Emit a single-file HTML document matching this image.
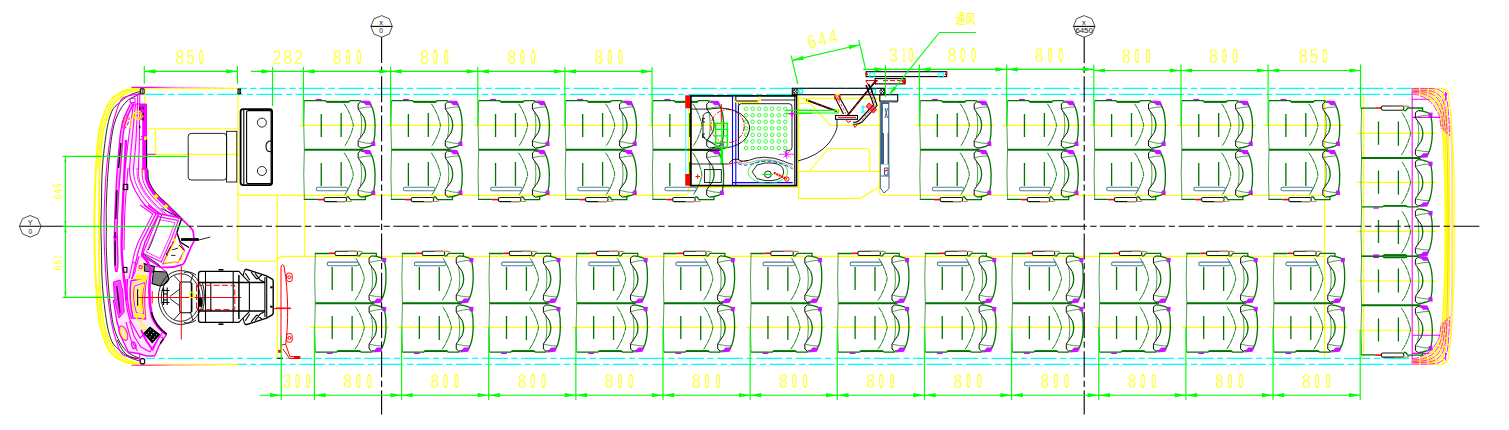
<!DOCTYPE html>
<html lang="zh"><head><meta charset="utf-8"><title>bus seat layout</title>
<style>
html,body{margin:0;padding:0;background:#fff;}
svg{display:block}
.y{stroke:#ff0;stroke-width:1.15}
.c{stroke:#0ff;stroke-width:1.25}
.g{stroke:#0f0;stroke-width:1.15}
.gf{fill:#0f0;stroke:none}
.m{stroke:#f0f;stroke-width:1.1}
.k{stroke:#000;stroke-width:1.1}
.kt{stroke:#333;stroke-width:0.7}
.kt2{stroke:#222;stroke-width:0.8}
.kt3{stroke:#000;stroke-width:0.85}
.gy{stroke:#999;stroke-width:0.8}
.r{stroke:#f00;stroke-width:1}
.b{stroke:#00f;stroke-width:1.1}
.dg{stroke:#007400;stroke-width:1.3}
.dgt{stroke:#0a7a0a;stroke-width:0.8;opacity:.9}
.dgc{stroke:#0a7a0a;stroke-width:0.95;stroke-dasharray:6 0.6}
.p{stroke:#c000ff}
.pf{fill:#c814ff;stroke:none}
.sb{stroke:#4f7d96;stroke-width:1.05}
.sb2{stroke:#3b5f88;stroke-width:1}
.sbf{fill:#3b5f88;stroke:#3b5f88;stroke-width:0.6}
.br{stroke:#b98d5a;stroke-width:1.2}
text{font-family:"Liberation Sans","Noto Sans CJK SC",sans-serif;stroke:none}
.ty{fill:#ff0;stroke:#fff;stroke-width:0.35}
.t0{stroke:#ff0;stroke-width:0.3}
.tys{fill:#ff0}
.tys .t0{stroke-width:0.15}
.tk{fill:#111}
.cjk{font-family:"Liberation Sans","Noto Sans CJK SC",sans-serif}
</style></head>
<body>
<svg width="1509" height="430" viewBox="0 0 1509 430" fill="none">
<linearGradient id="fadeM" x1="131.5" x2="226" y1="0" y2="0" gradientUnits="userSpaceOnUse"><stop offset="0" stop-color="#f0f"/><stop offset="0.2" stop-color="#f0f"/><stop offset="0.45" stop-color="#f0f" stop-opacity="0.45"/><stop offset="1" stop-color="#f0f" stop-opacity="0.05"/></linearGradient>
<line x1="132.00" y1="88.30" x2="237.90" y2="88.30" class="y" />
<line x1="132.00" y1="364.30" x2="238.20" y2="364.30" class="y" />
<path d="M237.9,88.3V258.2Q237.9,261.2 240.9,261.2H277.4" class="y" />
<path d="M237.9,192.3Q237.9,195.4 241,195.4H684Q688.6,195 688.6,190V96" class="y" />
<line x1="277.40" y1="195.40" x2="277.40" y2="358.30" class="y" />
<line x1="304.70" y1="195.40" x2="304.70" y2="256.20" class="y" />
<path d="M277.4,261.2Q278,256.3 283.4,256.3H1324.5" class="y" />
<line x1="884.00" y1="195.50" x2="1324.50" y2="195.50" class="y" />
<line x1="1324.50" y1="94.30" x2="1324.50" y2="358.30" class="y" />
<line x1="1363.70" y1="94.30" x2="1363.70" y2="360.00" class="y" />
<line x1="144.80" y1="88.30" x2="144.80" y2="128.70" class="y" />
<path d="M146.4,128.7H237.9M146.4,154.4H237.9M146.4,128.7H152.7Q155.7,128.7 155.7,131.7V154.4" class="y" />
<line x1="688.60" y1="187.30" x2="799.60" y2="187.30" class="y" />
<path d="M798.6,94V198.3H860.5L879.6,186.5" class="y" />
<path d="M879.6,94.7V192Q879.8,195.5 884,195.5" class="y" />
<line x1="798.60" y1="98.40" x2="879.60" y2="98.40" class="y" />
<path d="M798.6,103.5H810L830.5,125.5H879.6" class="y" />
<line x1="798.60" y1="171.50" x2="879.60" y2="171.50" class="y" />
<path d="M809,171.5L828.5,148.5H865.5Q869.8,148.8 869.8,153.5V171.5" class="y" />
<line x1="299.45" y1="125.40" x2="378.45" y2="125.40" class="y" />
<line x1="386.60" y1="125.40" x2="465.60" y2="125.40" class="y" />
<line x1="473.75" y1="125.40" x2="552.75" y2="125.40" class="y" />
<line x1="560.90" y1="125.40" x2="639.90" y2="125.40" class="y" />
<line x1="648.05" y1="125.40" x2="727.05" y2="125.40" class="y" />
<line x1="915.50" y1="125.40" x2="994.50" y2="125.40" class="y" />
<line x1="1002.65" y1="125.40" x2="1081.65" y2="125.40" class="y" />
<line x1="1089.80" y1="125.40" x2="1168.80" y2="125.40" class="y" />
<line x1="1176.95" y1="125.40" x2="1255.95" y2="125.40" class="y" />
<line x1="1264.10" y1="125.40" x2="1343.10" y2="125.40" class="y" />
<line x1="310.40" y1="327.30" x2="389.40" y2="327.30" class="y" />
<line x1="397.55" y1="327.30" x2="476.55" y2="327.30" class="y" />
<line x1="484.70" y1="327.30" x2="563.70" y2="327.30" class="y" />
<line x1="571.85" y1="327.30" x2="650.85" y2="327.30" class="y" />
<line x1="659.00" y1="327.30" x2="738.00" y2="327.30" class="y" />
<line x1="746.15" y1="327.30" x2="825.15" y2="327.30" class="y" />
<line x1="833.30" y1="327.30" x2="912.30" y2="327.30" class="y" />
<line x1="920.45" y1="327.30" x2="999.45" y2="327.30" class="y" />
<line x1="1007.60" y1="327.30" x2="1086.60" y2="327.30" class="y" />
<line x1="1094.75" y1="327.30" x2="1173.75" y2="327.30" class="y" />
<line x1="1181.90" y1="327.30" x2="1260.90" y2="327.30" class="y" />
<line x1="1269.05" y1="327.30" x2="1348.05" y2="327.30" class="y" />
<line x1="1356.80" y1="133.30" x2="1436.00" y2="133.30" class="y" />
<line x1="1356.80" y1="182.30" x2="1436.00" y2="182.30" class="y" />
<line x1="1356.80" y1="231.40" x2="1436.00" y2="231.40" class="y" />
<line x1="1356.80" y1="281.00" x2="1436.00" y2="281.00" class="y" />
<line x1="1356.80" y1="330.20" x2="1436.00" y2="330.20" class="y" />
<path d="M237.9,88.4H1412" class="c" stroke-dasharray="26 3.5 6.3 3.4" stroke-dashoffset="17.3"/>
<path d="M145.3,94.3H1412" class="c" stroke-dasharray="26 3.5 6.3 3.4" stroke-dashoffset="6.5"/>
<path d="M145.4,358.3H1412" class="c" stroke-dasharray="26 3.5 6.3 3.4" stroke-dashoffset="16.4"/>
<path d="M238.2,364.3H1412" class="c" stroke-dasharray="26 3.5 6.3 3.4" stroke-dashoffset="17.5"/>
<line x1="1412.20" y1="88.50" x2="1412.20" y2="364.20" class="m" />
<path d="M1412.2,99.2H1430.7M1412.2,117.4H1440M1412.2,353.40000000000003H1430.7M1412.2,335.20000000000005H1440" class="m" />
<path d="M1448.00,91.80C1448.27,94.00 1449.02,99.97 1449.60,105.00C1450.18,110.03 1451.00,112.83 1451.50,122.00C1452.00,131.17 1452.35,142.62 1452.60,160.00C1452.85,177.38 1453.00,204.20 1453.00,226.30C1453.00,248.40 1452.85,275.22 1452.60,292.60C1452.35,309.98 1452.00,321.43 1451.50,330.60C1451.00,339.77 1450.18,342.57 1449.60,347.60C1449.02,352.63 1448.27,358.60 1448.00,360.80" class="y" />
<path d="M1412.2,88.5H1443.3L1448,91.8M1412.2,364.1H1443.3L1448,360.8" class="y" />
<line x1="1443.30" y1="88.50" x2="1443.30" y2="97.50" class="y" />
<line x1="1443.30" y1="364.10" x2="1443.30" y2="355.10" class="y" />
<path d="M1412.20,93.20C1413.50,93.37 1417.37,93.48 1420.00,94.20C1422.63,94.92 1425.67,96.12 1428.00,97.50C1430.33,98.88 1432.33,100.58 1434.00,102.50C1435.67,104.42 1436.90,106.75 1438.00,109.00C1439.10,111.25 1439.87,112.50 1440.60,116.00C1441.33,119.50 1441.83,123.50 1442.40,130.00C1442.97,136.50 1443.62,147.50 1444.00,155.00C1444.38,162.50 1444.52,167.50 1444.70,175.00C1444.88,182.50 1445.00,191.45 1445.10,200.00C1445.20,208.55 1445.30,217.53 1445.30,226.30C1445.30,235.07 1445.20,244.05 1445.10,252.60C1445.00,261.15 1444.88,270.10 1444.70,277.60C1444.52,285.10 1444.38,290.10 1444.00,297.60C1443.62,305.10 1442.97,316.10 1442.40,322.60C1441.83,329.10 1441.33,333.10 1440.60,336.60C1439.87,340.10 1439.10,341.35 1438.00,343.60C1436.90,345.85 1435.67,348.18 1434.00,350.10C1432.33,352.02 1430.33,353.72 1428.00,355.10C1425.67,356.48 1422.63,357.68 1420.00,358.40C1417.37,359.12 1413.50,359.23 1412.20,359.40" class="y" style="stroke-width:1.5"/>
<path d="M1412.20,91.95C1413.94,92.07 1419.51,92.11 1422.64,92.72C1425.77,93.32 1428.60,94.25 1430.97,95.55C1433.34,96.85 1435.26,98.58 1436.84,100.52C1438.42,102.46 1439.46,104.66 1440.44,107.19C1441.42,109.71 1442.07,111.59 1442.71,115.67C1443.36,119.75 1443.82,124.82 1444.31,131.65C1444.81,138.48 1445.35,149.15 1445.68,156.65C1446.01,164.15 1446.13,169.43 1446.28,176.65C1446.44,183.88 1446.53,191.72 1446.62,200.00C1446.70,208.28 1446.78,217.53 1446.78,226.30C1446.78,235.07 1446.70,244.33 1446.62,252.60C1446.53,260.88 1446.44,268.73 1446.28,275.95C1446.13,283.18 1446.01,288.45 1445.68,295.95C1445.35,303.45 1444.81,314.12 1444.31,320.95C1443.82,327.78 1443.36,332.85 1442.71,336.93C1442.07,341.01 1441.42,342.89 1440.44,345.42C1439.46,347.94 1438.42,350.14 1436.84,352.08C1435.26,354.02 1433.34,355.75 1430.97,357.05C1428.60,358.35 1425.77,359.28 1422.64,359.88C1419.51,360.49 1413.94,360.53 1412.20,360.65" class="y" style="stroke-width:1.5"/>
<path d="M1412.20,90.69C1414.38,90.78 1421.66,90.74 1425.28,91.23C1428.90,91.72 1431.54,92.39 1433.94,93.61C1436.34,94.82 1438.19,96.58 1439.68,98.54C1441.17,100.50 1442.03,102.57 1442.88,105.37C1443.74,108.17 1444.27,110.69 1444.82,115.34C1445.38,120.00 1445.80,126.14 1446.23,133.30C1446.65,140.46 1447.09,150.80 1447.37,158.30C1447.64,165.80 1447.74,171.35 1447.87,178.30C1448.00,185.25 1448.07,192.00 1448.14,200.00C1448.20,208.00 1448.27,217.53 1448.27,226.30C1448.27,235.07 1448.20,244.60 1448.14,252.60C1448.07,260.60 1448.00,267.35 1447.87,274.30C1447.74,281.25 1447.64,286.80 1447.37,294.30C1447.09,301.80 1446.65,312.14 1446.23,319.30C1445.80,326.46 1445.38,332.61 1444.82,337.26C1444.27,341.91 1443.74,344.43 1442.88,347.23C1442.03,350.03 1441.17,352.10 1439.68,354.06C1438.19,356.02 1436.34,357.78 1433.94,358.99C1431.54,360.21 1428.90,360.88 1425.28,361.37C1421.66,361.86 1414.38,361.82 1412.20,361.91" class="y" style="stroke-width:1.5"/>
<path d="M1412.20,89.40C1414.83,89.45 1423.87,89.33 1428.00,89.70C1432.13,90.07 1434.57,90.47 1437.00,91.60C1439.43,92.73 1441.20,94.52 1442.60,96.50C1444.00,98.48 1444.67,100.42 1445.40,103.50C1446.13,106.58 1446.53,109.75 1447.00,115.00C1447.47,120.25 1447.85,127.50 1448.20,135.00C1448.55,142.50 1448.88,152.50 1449.10,160.00C1449.32,167.50 1449.40,173.33 1449.50,180.00C1449.60,186.67 1449.65,192.28 1449.70,200.00C1449.75,207.72 1449.80,217.53 1449.80,226.30C1449.80,235.07 1449.75,244.88 1449.70,252.60C1449.65,260.32 1449.60,265.93 1449.50,272.60C1449.40,279.27 1449.32,285.10 1449.10,292.60C1448.88,300.10 1448.55,310.10 1448.20,317.60C1447.85,325.10 1447.47,332.35 1447.00,337.60C1446.53,342.85 1446.13,346.02 1445.40,349.10C1444.67,352.18 1444.00,354.12 1442.60,356.10C1441.20,358.08 1439.43,359.87 1437.00,361.00C1434.57,362.13 1432.13,362.53 1428.00,362.90C1423.87,363.27 1414.83,363.15 1412.20,363.20" class="y" style="stroke-width:1.4"/>
<path d="M1450.60,112.00C1450.90,116.67 1451.78,128.67 1452.40,140.00C1453.02,151.33 1453.92,165.62 1454.30,180.00C1454.68,194.38 1454.70,210.87 1454.70,226.30C1454.70,241.73 1454.68,258.22 1454.30,272.60C1453.92,286.98 1453.02,301.27 1452.40,312.60C1451.78,323.93 1450.90,335.93 1450.60,340.60" class="y" style="stroke-width:0.8"/>
<path d="M1446.00,112.00C1446.27,120.00 1447.27,140.95 1447.60,160.00C1447.93,179.05 1448.00,204.20 1448.00,226.30C1448.00,248.40 1447.93,273.55 1447.60,292.60C1447.27,311.65 1446.27,332.60 1446.00,340.60" class="m" style="stroke-width:0.6" opacity="0.35"/>
<path d="M1450.00,120.00C1450.27,126.67 1451.28,142.28 1451.60,160.00C1451.92,177.72 1451.90,204.20 1451.90,226.30C1451.90,248.40 1451.92,274.88 1451.60,292.60C1451.28,310.32 1450.27,325.93 1450.00,332.60" class="m" style="stroke-width:0.6" opacity="0.4"/>
<path d="M1412.20,93.96C1413.23,94.15 1416.07,94.31 1418.40,95.10C1420.73,95.89 1423.89,97.25 1426.20,98.68C1428.51,100.11 1430.56,101.80 1432.28,103.70C1434.00,105.60 1435.35,108.02 1436.52,110.10C1437.69,112.18 1438.53,113.05 1439.32,116.20C1440.11,119.35 1440.92,126.87 1441.24,129.00" class="m" style="stroke-width:0.9" stroke-dasharray="7 1.2"/>
<path d="M1412.20,358.64C1413.23,358.45 1416.07,358.29 1418.40,357.50C1420.73,356.71 1423.89,355.35 1426.20,353.92C1428.51,352.49 1430.56,350.80 1432.28,348.90C1434.00,347.00 1435.35,344.58 1436.52,342.50C1437.69,340.42 1438.53,339.55 1439.32,336.40C1440.11,333.25 1440.92,325.73 1441.24,323.60" class="m" style="stroke-width:0.9" stroke-dasharray="7 1.2"/>
<path d="M1412.20,92.55C1413.73,92.70 1418.47,92.78 1421.36,93.44C1424.25,94.09 1427.18,95.16 1429.53,96.50C1431.88,97.84 1433.84,99.55 1435.46,101.48C1437.08,103.41 1438.22,105.67 1439.26,108.06C1440.30,110.46 1441.00,112.03 1441.69,115.83C1442.38,119.63 1443.10,128.35 1443.39,130.85" class="m" style="stroke-width:0.9" stroke-dasharray="7 1.2"/>
<path d="M1412.20,360.05C1413.73,359.90 1418.47,359.82 1421.36,359.17C1424.25,358.51 1427.18,357.44 1429.53,356.10C1431.88,354.76 1433.84,353.05 1435.46,351.12C1437.08,349.19 1438.22,346.93 1439.26,344.54C1440.30,342.14 1441.00,340.57 1441.69,336.77C1442.38,332.97 1443.10,324.25 1443.39,321.75" class="m" style="stroke-width:0.9" stroke-dasharray="7 1.2"/>
<path d="M1412.20,91.30C1414.17,91.41 1420.62,91.41 1424.00,91.95C1427.38,92.49 1430.12,93.29 1432.50,94.55C1434.88,95.81 1436.77,97.55 1438.30,99.50C1439.83,101.45 1440.78,103.58 1441.70,106.25C1442.62,108.92 1443.20,111.12 1443.80,115.50C1444.40,119.88 1445.05,129.67 1445.30,132.50" class="m" style="stroke-width:0.9" stroke-dasharray="7 1.2"/>
<path d="M1412.20,361.30C1414.17,361.19 1420.62,361.19 1424.00,360.65C1427.38,360.11 1430.12,359.31 1432.50,358.05C1434.88,356.79 1436.77,355.05 1438.30,353.10C1439.83,351.15 1440.78,349.02 1441.70,346.35C1442.62,343.68 1443.20,341.48 1443.80,337.10C1444.40,332.73 1445.05,322.93 1445.30,320.10" class="m" style="stroke-width:0.9" stroke-dasharray="7 1.2"/>
<path d="M1412.20,90.05C1414.61,90.12 1422.76,90.04 1426.64,90.47C1430.52,90.89 1433.05,91.43 1435.47,92.60C1437.89,93.78 1439.69,95.55 1441.14,97.52C1442.58,99.49 1443.35,101.49 1444.14,104.44C1444.94,107.38 1445.40,110.22 1445.91,115.17C1446.42,120.12 1447.00,130.99 1447.21,134.15" class="m" style="stroke-width:0.9" stroke-dasharray="7 1.2"/>
<path d="M1412.20,362.55C1414.61,362.48 1422.76,362.56 1426.64,362.13C1430.52,361.71 1433.05,361.17 1435.47,360.00C1437.89,358.82 1439.69,357.05 1441.14,355.08C1442.58,353.11 1443.35,351.11 1444.14,348.17C1444.94,345.22 1445.40,342.38 1445.91,337.43C1446.42,332.48 1447.00,321.61 1447.21,318.45" class="m" style="stroke-width:0.9" stroke-dasharray="7 1.2"/>
<path d="M1412.20,88.45C1415.17,88.47 1425.49,88.30 1430.00,88.58C1434.51,88.85 1436.79,89.05 1439.25,90.12C1441.71,91.20 1443.42,93.00 1444.75,95.00C1446.08,97.00 1446.61,98.83 1447.25,102.12C1447.89,105.42 1448.20,109.06 1448.60,114.75C1449.00,120.44 1449.48,132.67 1449.65,136.25" class="m" style="stroke-width:0.9" stroke-dasharray="7 1.2"/>
<path d="M1412.20,364.15C1415.17,364.13 1425.49,364.30 1430.00,364.03C1434.51,363.75 1436.79,363.55 1439.25,362.48C1441.71,361.40 1443.42,359.60 1444.75,357.60C1446.08,355.60 1446.61,353.77 1447.25,350.48C1447.89,347.18 1448.20,343.54 1448.60,337.85C1449.00,332.16 1449.48,319.93 1449.65,316.35" class="m" style="stroke-width:0.9" stroke-dasharray="7 1.2"/>
<path d="M1445.6,92V100M1446.8,93L1445,101" class="m" />
<path d="M1445.6,360.6V352.6" class="m" />
<path d="M136.00,88.60C134.33,88.87 129.17,89.22 126.00,90.20C122.83,91.18 119.75,92.53 117.00,94.50C114.25,96.47 111.47,99.25 109.50,102.00C107.53,104.75 106.90,106.17 105.20,111.00C103.50,115.83 100.83,121.50 99.30,131.00C97.77,140.50 96.78,155.67 96.00,168.00C95.22,180.33 94.87,195.28 94.60,205.00C94.33,214.72 94.40,219.20 94.40,226.30C94.40,233.40 94.33,237.88 94.60,247.60C94.87,257.32 95.22,272.27 96.00,284.60C96.78,296.93 97.77,312.10 99.30,321.60C100.83,331.10 103.50,336.77 105.20,341.60C106.90,346.43 107.53,347.85 109.50,350.60C111.47,353.35 114.25,356.13 117.00,358.10C119.75,360.07 122.83,361.42 126.00,362.40C129.17,363.38 134.33,363.73 136.00,364.00" class="y" style="stroke-width:1.9"/>
<path d="M139.00,89.60C137.67,89.87 133.67,90.22 131.00,91.20C128.33,92.18 125.75,93.53 123.00,95.50C120.25,97.47 116.70,100.42 114.50,103.00C112.30,105.58 111.67,106.33 109.80,111.00C107.93,115.67 104.97,121.50 103.30,131.00C101.63,140.50 100.50,155.67 99.80,168.00C99.10,180.33 99.23,195.28 99.10,205.00C98.97,214.72 99.00,219.20 99.00,226.30C99.00,233.40 98.97,237.88 99.10,247.60C99.23,257.32 99.10,272.27 99.80,284.60C100.50,296.93 101.63,312.10 103.30,321.60C104.97,331.10 107.93,336.93 109.80,341.60C111.67,346.27 112.30,347.02 114.50,349.60C116.70,352.18 120.25,355.13 123.00,357.10C125.75,359.07 128.33,360.42 131.00,361.40C133.67,362.38 137.67,362.73 139.00,363.00" class="y" style="stroke-width:1.7"/>
<path d="M137.00,89.00C135.50,89.27 130.83,89.60 128.00,90.60C125.17,91.60 122.67,93.02 120.00,95.00C117.33,96.98 114.08,99.83 112.00,102.50C109.92,105.17 109.28,106.25 107.50,111.00C105.72,115.75 102.90,121.50 101.30,131.00C99.70,140.50 98.47,161.83 97.90,168.00" class="y" style="stroke-width:1.1"/>
<path d="M137.00,363.60C135.50,363.33 130.83,363.00 128.00,362.00C125.17,361.00 122.67,359.58 120.00,357.60C117.33,355.62 114.08,352.77 112.00,350.10C109.92,347.43 109.28,346.35 107.50,341.60C105.72,336.85 102.90,331.10 101.30,321.60C99.70,312.10 98.47,290.77 97.90,284.60" class="y" style="stroke-width:1.1"/>
<path d="M140.50,91.60C139.80,91.77 138.38,91.87 136.30,92.60C134.22,93.33 130.88,94.27 128.00,96.00C125.12,97.73 121.68,100.47 119.00,103.00C116.32,105.53 113.97,106.53 111.90,111.20C109.83,115.87 108.18,121.53 106.60,131.00C105.02,140.47 103.27,155.67 102.40,168.00C101.53,180.33 101.65,195.28 101.40,205.00C101.15,214.72 100.90,219.20 100.90,226.30C100.90,233.40 101.15,237.88 101.40,247.60C101.65,257.32 101.53,272.27 102.40,284.60C103.27,296.93 105.02,312.13 106.60,321.60C108.18,331.07 109.83,336.73 111.90,341.40C113.97,346.07 116.32,347.07 119.00,349.60C121.68,352.13 125.12,354.87 128.00,356.60C130.88,358.33 134.22,359.27 136.30,360.00C138.38,360.73 139.80,360.83 140.50,361.00" class="kt3" />
<path d="M140.50,93.20C139.80,93.40 139.30,93.55 136.30,94.40C133.30,95.25 125.82,95.50 122.50,98.30C119.18,101.10 118.27,105.75 116.40,111.20C114.53,116.65 112.93,121.53 111.30,131.00C109.67,140.47 107.75,155.67 106.60,168.00C105.45,180.33 104.83,195.28 104.40,205.00C103.97,214.72 104.00,219.20 104.00,226.30C104.00,233.40 103.97,237.88 104.40,247.60C104.83,257.32 105.45,272.27 106.60,284.60C107.75,296.93 109.67,312.13 111.30,321.60C112.93,331.07 114.53,335.95 116.40,341.40C118.27,346.85 119.18,351.50 122.50,354.30C125.82,357.10 133.30,357.35 136.30,358.20C139.30,359.05 139.80,359.20 140.50,359.40" class="m" />
<path d="M139.00,94.50C137.00,95.58 130.50,97.75 127.00,101.00C123.50,104.25 120.45,108.67 118.00,114.00C115.55,119.33 113.92,124.00 112.30,133.00C110.68,142.00 109.30,156.00 108.30,168.00C107.30,180.00 106.62,195.28 106.30,205.00C105.98,214.72 106.40,219.20 106.40,226.30C106.40,233.40 105.98,237.88 106.30,247.60C106.62,257.32 107.30,272.60 108.30,284.60C109.30,296.60 110.68,310.60 112.30,319.60C113.92,328.60 115.55,333.27 118.00,338.60C120.45,343.93 123.50,348.35 127.00,351.60C130.50,354.85 137.00,357.02 139.00,358.10" class="kt3" />
<line x1="131.5" y1="87.4" x2="226" y2="87.4" stroke="url(#fadeM)" stroke-width="1.1"/>
<line x1="131.5" y1="365.3" x2="226" y2="365.3" stroke="url(#fadeM)" stroke-width="1.1"/>
<rect x="237.5" y="88.6" width="3.6" height="5.6" fill="#000"/><ellipse cx="239.3" cy="91.4" rx="0.8" ry="1.6" stroke="#fff" stroke-width="0.5"/>
<rect x="140.30" y="88.80" width="3.80" height="5.20" rx="0.8" class="k" />
<line x1="142.20" y1="89.00" x2="142.20" y2="94.00" class="kt3" />
<rect x="140.30" y="358.60" width="4.40" height="5.30" rx="2" class="k" />
<rect x="130.20" y="98.30" width="4.80" height="4.30" rx="0" class="m" />
<path d="M137.6,94V104M139.7,94V104M130.2,102.6L133,104.5" class="m" />
<path d="M139.7,103.5H145.5Q147,103.5 147,105V170H142.2V120H139.7Z" fill="#f0f"/>
<path d="M131.5,104H139.7" class="m" />
<path d="M135.50,104.00C134.92,110.00 133.02,129.17 132.00,140.00C130.98,150.83 129.83,164.17 129.40,169.00" class="m" />
<path d="M137.50,104.00C137.25,110.00 136.68,129.17 136.00,140.00C135.32,150.83 133.83,164.17 133.40,169.00" class="m" />
<path d="M139.50,104.00C139.48,110.00 139.58,129.17 139.40,140.00C139.22,150.83 138.57,164.17 138.40,169.00" class="m" />
<path d="M133.60,104.00C132.73,110.00 129.80,129.17 128.40,140.00C127.00,150.83 125.73,164.17 125.20,169.00" class="m" />
<path d="M131.3,104H139.7V170H128.6L129.5,140Z" fill="#f0f" fill-opacity="0.1"/>
<circle cx="138.00" cy="115.60" r="4.30" class="y" />
<circle cx="138.00" cy="115.60" r="2.60" class="y" />
<ellipse cx="125.5" cy="121.6" rx="1.6" ry="5" transform="rotate(18 125.5 121.6)" class="y" style="stroke-width:1.3"/>
<ellipse cx="125.5" cy="121.6" rx="3" ry="7" transform="rotate(18 125.5 121.6)" class="m" stroke-dasharray="3 1.5"/>
<path d="M135,112Q131,118 130.5,128" class="y" />
<rect x="139.0" y="106.9" width="1.4" height="2.6" fill="#000"/>
<rect x="142.5" y="106.9" width="1.4" height="2.6" fill="#000"/>
<rect x="142.5" y="117.7" width="1.4" height="2.6" fill="#000"/>
<rect x="139.0" y="125.7" width="1.4" height="2.6" fill="#000"/>
<rect x="142.5" y="112.7" width="1.4" height="2.6" fill="#000"/>
<line x1="146.60" y1="138.80" x2="146.60" y2="170.00" class="k" />
<line x1="146.60" y1="154.30" x2="155.70" y2="154.30" class="m" />
<path d="M141,137L146,134M140,140L146,137" class="m" />
<rect x="141.5" y="170.5" width="3.4" height="3" fill="#ff0"/>
<rect x="144" y="136.5" width="2.6" height="3.6" fill="#ff0"/>
<path d="M130.20,104.30C129.17,106.58 125.57,113.55 124.00,118.00C122.43,122.45 121.60,126.33 120.80,131.00C120.00,135.67 119.77,139.83 119.20,146.00C118.63,152.17 117.93,160.67 117.40,168.00C116.87,175.33 116.47,180.28 116.00,190.00C115.53,199.72 114.82,214.30 114.60,226.30C114.38,238.30 114.47,254.38 114.70,262.00C114.93,269.62 115.78,270.33 116.00,272.00" class="m" style="stroke-width:1.4"/>
<path d="M133.00,104.50C132.00,106.75 128.57,113.58 127.00,118.00C125.43,122.42 124.38,126.33 123.60,131.00C122.82,135.67 122.80,139.83 122.30,146.00C121.80,152.17 121.17,160.67 120.60,168.00C120.03,175.33 119.47,180.28 118.90,190.00C118.33,199.72 117.37,214.30 117.20,226.30C117.03,238.30 117.97,254.38 117.90,262.00C117.83,269.62 116.98,270.33 116.80,272.00" class="m" style="stroke-width:1.4"/>
<path d="M130.20,104.30C129.17,106.58 125.57,113.55 124.00,118.00C122.43,122.45 121.60,126.33 120.80,131.00C120.00,135.67 119.77,139.83 119.20,146.00C118.63,152.17 117.93,160.67 117.40,168.00C116.87,175.33 116.47,180.28 116.00,190.00C115.53,199.72 114.82,214.30 114.60,226.30C114.38,238.30 114.47,254.38 114.70,262.00C114.93,269.62 115.78,270.33 116.00,272.00L116.8,272C116.98,270.33 117.83,269.62 117.90,262.00C117.97,254.38 117.03,238.30 117.20,226.30C117.37,214.30 118.33,199.72 118.90,190.00C119.47,180.28 120.03,175.33 120.60,168.00C121.17,160.67 121.80,152.17 122.30,146.00C122.80,139.83 122.82,135.67 123.60,131.00C124.38,126.33 125.43,122.42 127.00,118.00C128.57,113.58 132.00,106.75 133.00,104.50Z" fill="#f0f" fill-opacity="0.35" stroke="none"/>
<path d="M120.9,143L118.6,168M117,190L115.8,219M115.2,232V265.5" class="k" style="stroke-width:1.3"/>
<path d="M113.5,236L115.2,240.5L116.8,236" class="m" />
<path d="M126.00,140.00C125.77,144.67 125.13,157.17 124.60,168.00C124.07,178.83 123.23,195.28 122.80,205.00C122.37,214.72 122.18,218.80 122.00,226.30C121.82,233.80 121.43,241.88 121.70,250.00C121.97,258.12 122.72,266.67 123.60,275.00C124.48,283.33 126.43,295.83 127.00,300.00" class="m" style="stroke-width:2.4"/>
<path d="M128.00,168.00C127.53,174.17 125.80,195.28 125.20,205.00C124.60,214.72 124.60,218.80 124.40,226.30C124.20,233.80 124.07,246.05 124.00,250.00" class="m" />
<rect x="123.40" y="184.40" width="4.30" height="5.20" rx="0" class="k" />
<rect x="123.40" y="267.40" width="3.50" height="4.80" rx="0" class="k" />
<path d="M146.23,168.00C146.37,170.14 145.79,176.64 147.06,180.86C148.33,185.08 150.74,189.28 153.86,193.30C156.97,197.33 161.42,200.84 165.73,205.00C170.04,209.16 177.39,216.04 179.72,218.25" class="m" style="stroke-width:3.2"/>
<path d="M142.07,168.00C142.22,170.07 141.76,176.24 142.99,180.40C144.22,184.56 146.51,188.88 149.44,192.98C152.37,197.08 156.51,200.98 160.58,205.00C164.65,209.02 171.66,215.08 173.88,217.10" class="m" style="stroke-width:1"/>
<path d="M138.45,168.00C138.62,170.00 138.26,175.88 139.45,180.00C140.64,184.12 142.82,188.53 145.60,192.70C148.38,196.87 152.23,201.10 156.10,205.00C159.97,208.90 166.68,214.25 168.80,216.10" class="m" style="stroke-width:1"/>
<path d="M137.00,168.00C137.17,169.97 136.86,175.74 138.03,179.84C139.21,183.94 141.35,188.39 144.06,192.59C146.78,196.78 150.52,201.15 154.31,205.00C158.09,208.85 164.69,213.92 166.77,215.70" class="m" style="stroke-width:0.8"/>
<path d="M133.38,168.00C133.57,169.91 133.35,175.39 134.49,179.44C135.63,183.49 137.67,188.05 140.22,192.31C142.78,196.57 146.25,201.27 149.83,205.00C153.41,208.73 159.71,213.08 161.69,214.70" class="m" style="stroke-width:1"/>
<path d="M129.40,168.00C129.60,169.83 129.50,175.00 130.60,179.00C131.70,183.00 133.62,187.67 136.00,192.00C138.38,196.33 141.55,201.40 144.90,205.00C148.25,208.60 154.23,212.17 156.10,213.60" class="m" style="stroke-width:1.2"/>
<path d="M148.00,170.00C148.17,171.83 147.68,177.17 149.00,181.00C150.32,184.83 152.73,189.07 155.90,193.00C159.07,196.93 163.68,200.37 168.00,204.60C172.32,208.83 179.50,216.10 181.80,218.40" class="kt3" />
<path d="M161.3,208.4L181.5,218.8" class="kt3" />
<rect x="154" y="194.5" width="3.6" height="4.2" fill="#ff0" transform="rotate(40 155.8 196.6)"/>
<rect x="164.5" y="204.6" width="3.6" height="3.6" fill="#ff0" transform="rotate(40 166 206)"/>
<path d="M144,205L156.1,213.6L141.4,242L138,252.3L132,279" class="m" style="stroke-width:1.3"/>
<path d="M140,205L152.8,214L138.2,242L134.6,252.3L129,279" class="m" />
<path d="M148,205L159,213.3L145,242L141.4,255" class="m" style="stroke-width:1.6"/>
<path d="M162.1,213.6L151.8,242L148.3,250" class="kt3" />
<path d="M155.8,213.3L181.4,217.9" class="m" style="stroke-width:1.5"/>
<path d="M158,216.6L178.3,220.4L172,237.5L161.3,262L143,253.2Z" class="m" />
<path d="M160.5,219.8L175,222.6L169.5,237L160,258.5L146.5,252Z" class="m" style="stroke-width:0.8"/>
<path d="M181.5,218.6L192.7,230Q194.4,236 193.6,242L191.4,246L184.6,262L182.8,264.4Q172,268.6 160.4,267L141.4,255" class="m" style="stroke-width:1.7"/>
<path d="M181.5,218.8L176.8,232.6L180.2,242L189,247.5" class="k" style="stroke-width:1.4"/>
<path d="M176.8,232.6L174,240L172.8,244" class="m" style="stroke-width:1.5"/>
<path d="M173.3,242L163,263.6L178.5,261.8L184.6,250.6L179.4,242" class="m" style="stroke-width:1.4"/>
<path d="M174.2,243L164.2,262.7L170,263.4L181.1,260.4L184,251.5L177.7,244.6" class="y" style="stroke-width:1.3"/>
<path d="M171,246L166,254.5L168,255M172,250L178,248M171,255.4H175.5M179,245L184,250" class="kt3" />
<path d="M160.4,267L158,264L143,254" class="kt3" />
<rect x="181.1" y="238.1" width="17.7" height="2.8" fill="#000"/>
<line x1="198.80" y1="240.00" x2="210.40" y2="237.00" class="kt3" />
<rect x="172.5" y="238.5" width="3.4" height="2.6" fill="#ff0"/>
<path d="M144,263.6L154.4,266.5L153.5,272.2L144.5,271Z" class="k" fill="#808080" stroke="none"/>
<path d="M153.5,271.3L166.4,272L169,279Q166,285 160,286L152,283.5Z" class="k" fill="#808080" stroke="none"/>
<path d="M154.4,266.5L160.4,267L166.4,272" class="m" />
<path d="M141.4,255Q150,262 150.6,272Q147.6,297 151.8,316Q156,327 166.4,334.5" class="m" style="stroke-width:2.6"/>
<path d="M151.4,312Q155,326 166.8,334.3" class="k" style="stroke-width:1.5"/>
<path d="M166.4,334.5L158.7,346.2L156.1,353L154.4,356H146.6L139.7,353.8L128.5,352L122.5,340L117,322L113.4,300" class="m" style="stroke-width:1.4"/>
<path d="M139.7,353.8V362.4" class="m" />
<path d="M162.5,332L155.5,344L152.5,351M159.6,336L150,352M164,338.5L159.5,336" class="m" />
<path d="M160.2,343.5L163.4,338.8" class="k" style="stroke-width:1.5"/>
<path d="M113,280L141.4,255L150.6,272L151.8,316L166.4,334.5L156,356H146.6L128.5,352L117,322Z" fill="#f0f" fill-opacity="0.1"/>
<path d="M113.4,282L114.5,300L119,318L124.2,312L122.6,290L120,280Z" fill="#f0f" fill-opacity="0.7" stroke="#f0f" stroke-width="1"/>
<path d="M116.2,286L117.6,300L119.6,313.5L120.6,312.5L119,298L117.2,285.8Z" fill="#3c0046"/>
<path d="M131.0,281.0Q128.5,297 133.0,318.0L145.5,319.0Q143.0,297 146.6,277.5Z" class="m" style="stroke-width:1.6"/>
<path d="M132.7,283.6Q130.2,297 134.7,315.4L144.5,316.4Q142.0,297 145.6,280.1Z" class="y" style="stroke-width:1.4"/>
<path d="M134.4,286.1Q131.9,297 136.4,312.9L143.5,313.9Q141.0,297 144.6,282.6Z" class="m" style="stroke-width:1"/>
<path d="M136.1,288.6Q133.6,297 138.1,310.4L142.4,311.4Q139.9,297 143.5,285.1Z" class="y" style="stroke-width:1.2"/>
<path d="M137.8,291.2Q135.3,297 139.8,307.8L141.4,308.8Q138.9,297 142.5,287.7Z" class="y" style="stroke-width:1.2"/>
<line x1="137.60" y1="289.30" x2="137.60" y2="305.70" class="k" />
<path d="M126,279Q123.5,300 130,320L140,338L149,330M127.6,279Q125.3,300 131.6,319" class="m" style="stroke-width:1.3"/>
<path d="M136.3,275.2H146.6V279H136.3Z" class="y" fill="#ff0"/>
<path d="M138,264H143.2V270.4H138Z" class="y" />
<circle cx="140.60" cy="267.20" r="1.60" class="m" />
<path d="M133,262L136.5,264L135,272L131.5,279M139,256L137,264" class="m" />
<line x1="152.20" y1="291.00" x2="152.20" y2="303.60" class="r" />
<ellipse cx="123.3" cy="333.2" rx="2.2" ry="5.6" transform="rotate(-22 123.3 333.2)" class="y" style="stroke-width:1.5"/>
<ellipse cx="123.3" cy="333.2" rx="3.8" ry="7.6" transform="rotate(-22 123.3 333.2)" class="m"/>
<ellipse cx="143.2" cy="327.2" rx="1.6" ry="2.6" transform="rotate(-25 143.2 327.2)" class="y"/>
<circle cx="139.70" cy="317.00" r="3.40" class="y" style="stroke-width:1.6"/>
<ellipse cx="133.7" cy="345.3" rx="2" ry="3.4" transform="rotate(-20 133.7 345.3)" class="m" style="stroke-width:1.4"/>
<path d="M126,322L131,340L137.5,351M129.5,321L134,336L141,347L150,352" class="m" />
<path d="M141,330L146.5,341L152,349" class="m" style="stroke-width:2"/>
<path d="M144,333.2L150,327.2L159.6,334.5L152.2,342.7Z" class="k" fill="#000"/>
<circle cx="148.5" cy="332.2" r="0.55" fill="#fff"/>
<circle cx="151.6" cy="334.6" r="0.55" fill="#fff"/>
<circle cx="154.7" cy="337" r="0.55" fill="#fff"/>
<circle cx="150.2" cy="330" r="0.55" fill="#fff"/>
<circle cx="153.3" cy="332.4" r="0.55" fill="#fff"/>
<circle cx="156.4" cy="334.8" r="0.55" fill="#fff"/>
<circle cx="147" cy="334.6" r="0.55" fill="#fff"/>
<circle cx="150" cy="337" r="0.55" fill="#fff"/>
<circle cx="153" cy="339.4" r="0.55" fill="#fff"/>
<circle cx="161.5" cy="336.5" r="1" fill="#fff" stroke="#f0f" stroke-width="0.6"/>
<path d="M117.30,340.00C118.00,341.42 119.92,346.05 121.50,348.50C123.08,350.95 125.05,353.23 126.80,354.70C128.55,356.17 130.28,356.67 132.00,357.30C133.72,357.93 136.25,358.30 137.10,358.50" class="kt3" />
<g transform="translate(303.45,100.70)"><path d="M0.9,0H22L23.4,1.3H44.4L47,0H57" class="dg"/><path d="M23.4,1.0H46" class="dg" style="stroke-width:1.7"/><path d="M12.4,-1.1H18.2" class="p" style="stroke-width:1.3"/><path d="M17.8,13.2V36.3M37.7,12.2V36.3" class="dg"/><path d="M40.6,3.0C44.5,8.0 48.6,17.0 49.9,24.7C48.6,32.5 44.5,41.0 40.9,45.5" class="dgc"/><path d="M0.9,0.0Q-0.3,24.5 0.9,49.0" class="dgt"/><path d="M57,1.3L54.7,3.2V8.2L60.4,16.5M60.4,32.0L54.7,40.1V45.3L57.5,47.4" class="k" style="stroke-width:0.95"/><path d="M60.4,16.5C62.4,21.0 62.4,27.5 60.4,32.0" class="dg"/><path d="M56.8,11.0C58.6,18.0 58.6,30.0 56.8,37.5" class="dgt"/><path d="M55,8.0L62,6.6L68.4,6.2M55,40.6L62,42.3L69.6,43.0" class="dgt"/><path d="M56.6,0.0L58.2,1.4L66,2.4L68.6,6.5C72.4,16.0 72.4,33.0 70,43.0L67,45.4L62,46.8L57.5,47.4" class="dg"/><path d="M58,-0.2L66.6,0.4L68.6,4.6L62.5,4.6Z" class="pf"/><path d="M67.8,41.0L71.6,40.6L72,45.2L68.2,45.4Z" class="pf"/><path d="M0.9,49H60" class="dg" style="stroke-width:2"/><path d="M17.8,62.2V85.3M37.7,61.2V85.3" class="dg"/><path d="M40.6,52.0C44.5,57.0 48.6,66.0 49.9,73.7C48.6,81.5 44.5,90.0 40.9,94.5" class="dgc"/><path d="M0.9,49.0Q-0.3,73.5 0.9,98.0" class="dgt"/><path d="M57,50.3L54.7,52.2V57.2L60.4,65.5M60.4,81.0L54.7,89.1V94.3L57.5,96.4" class="k" style="stroke-width:0.95"/><path d="M60.4,65.5C62.4,70.0 62.4,76.5 60.4,81.0" class="dg"/><path d="M56.8,60.0C58.6,67.0 58.6,79.0 56.8,86.5" class="dgt"/><path d="M55,57.0L62,55.6L68.4,55.2M55,89.6L62,91.3L69.6,92.0" class="dgt"/><path d="M56.6,49.0L58.2,50.4L66,51.4L68.6,55.5C72.4,65.0 72.4,82.0 70,92.0L67,94.4L62,95.8L57.5,96.4" class="dg"/><path d="M58,48.8L66.6,49.4L68.6,53.6L62.5,53.6Z" class="pf"/><path d="M67.8,90.0L71.6,89.6L72,94.2L68.2,94.4Z" class="pf"/><rect x="12.8" y="86.5" width="31.6" height="3.6" rx="1.8" class="sb"/><path d="M0.9,98V98.7H14.5M43,96.3H45L47,98.9H61.9V96" class="dg"/><path d="M14.5,98.9H20.6" class="r" style="stroke-width:1.6"/><rect x="20.6" y="96.7" width="22.5" height="4.2" rx="1.6" class="k" style="stroke-width:1.05;stroke:#0a1e0a"/><path d="M33.4,100.8H46L48.7,100.2" class="br"/></g>
<g transform="translate(390.60,100.70)"><path d="M0.9,0H22L23.4,1.3H44.4L47,0H57" class="dg"/><path d="M23.4,1.0H46" class="dg" style="stroke-width:1.7"/><path d="M12.4,-1.1H18.2" class="p" style="stroke-width:1.3"/><path d="M17.8,13.2V36.3M37.7,12.2V36.3" class="dg"/><path d="M40.6,3.0C44.5,8.0 48.6,17.0 49.9,24.7C48.6,32.5 44.5,41.0 40.9,45.5" class="dgc"/><path d="M0.9,0.0Q-0.3,24.5 0.9,49.0" class="dgt"/><path d="M57,1.3L54.7,3.2V8.2L60.4,16.5M60.4,32.0L54.7,40.1V45.3L57.5,47.4" class="k" style="stroke-width:0.95"/><path d="M60.4,16.5C62.4,21.0 62.4,27.5 60.4,32.0" class="dg"/><path d="M56.8,11.0C58.6,18.0 58.6,30.0 56.8,37.5" class="dgt"/><path d="M55,8.0L62,6.6L68.4,6.2M55,40.6L62,42.3L69.6,43.0" class="dgt"/><path d="M56.6,0.0L58.2,1.4L66,2.4L68.6,6.5C72.4,16.0 72.4,33.0 70,43.0L67,45.4L62,46.8L57.5,47.4" class="dg"/><path d="M58,-0.2L66.6,0.4L68.6,4.6L62.5,4.6Z" class="pf"/><path d="M67.8,41.0L71.6,40.6L72,45.2L68.2,45.4Z" class="pf"/><path d="M0.9,49H60" class="dg" style="stroke-width:2"/><path d="M17.8,62.2V85.3M37.7,61.2V85.3" class="dg"/><path d="M40.6,52.0C44.5,57.0 48.6,66.0 49.9,73.7C48.6,81.5 44.5,90.0 40.9,94.5" class="dgc"/><path d="M0.9,49.0Q-0.3,73.5 0.9,98.0" class="dgt"/><path d="M57,50.3L54.7,52.2V57.2L60.4,65.5M60.4,81.0L54.7,89.1V94.3L57.5,96.4" class="k" style="stroke-width:0.95"/><path d="M60.4,65.5C62.4,70.0 62.4,76.5 60.4,81.0" class="dg"/><path d="M56.8,60.0C58.6,67.0 58.6,79.0 56.8,86.5" class="dgt"/><path d="M55,57.0L62,55.6L68.4,55.2M55,89.6L62,91.3L69.6,92.0" class="dgt"/><path d="M56.6,49.0L58.2,50.4L66,51.4L68.6,55.5C72.4,65.0 72.4,82.0 70,92.0L67,94.4L62,95.8L57.5,96.4" class="dg"/><path d="M58,48.8L66.6,49.4L68.6,53.6L62.5,53.6Z" class="pf"/><path d="M67.8,90.0L71.6,89.6L72,94.2L68.2,94.4Z" class="pf"/><rect x="12.8" y="86.5" width="31.6" height="3.6" rx="1.8" class="sb"/><path d="M0.9,98V98.7H14.5M43,96.3H45L47,98.9H61.9V96" class="dg"/><path d="M14.5,98.9H20.6" class="r" style="stroke-width:1.6"/><rect x="20.6" y="96.7" width="22.5" height="4.2" rx="1.6" class="k" style="stroke-width:1.05;stroke:#0a1e0a"/><path d="M33.4,100.8H46L48.7,100.2" class="br"/></g>
<g transform="translate(477.75,100.70)"><path d="M0.9,0H22L23.4,1.3H44.4L47,0H57" class="dg"/><path d="M23.4,1.0H46" class="dg" style="stroke-width:1.7"/><path d="M12.4,-1.1H18.2" class="p" style="stroke-width:1.3"/><path d="M17.8,13.2V36.3M37.7,12.2V36.3" class="dg"/><path d="M40.6,3.0C44.5,8.0 48.6,17.0 49.9,24.7C48.6,32.5 44.5,41.0 40.9,45.5" class="dgc"/><path d="M0.9,0.0Q-0.3,24.5 0.9,49.0" class="dgt"/><path d="M57,1.3L54.7,3.2V8.2L60.4,16.5M60.4,32.0L54.7,40.1V45.3L57.5,47.4" class="k" style="stroke-width:0.95"/><path d="M60.4,16.5C62.4,21.0 62.4,27.5 60.4,32.0" class="dg"/><path d="M56.8,11.0C58.6,18.0 58.6,30.0 56.8,37.5" class="dgt"/><path d="M55,8.0L62,6.6L68.4,6.2M55,40.6L62,42.3L69.6,43.0" class="dgt"/><path d="M56.6,0.0L58.2,1.4L66,2.4L68.6,6.5C72.4,16.0 72.4,33.0 70,43.0L67,45.4L62,46.8L57.5,47.4" class="dg"/><path d="M58,-0.2L66.6,0.4L68.6,4.6L62.5,4.6Z" class="pf"/><path d="M67.8,41.0L71.6,40.6L72,45.2L68.2,45.4Z" class="pf"/><path d="M0.9,49H60" class="dg" style="stroke-width:2"/><path d="M17.8,62.2V85.3M37.7,61.2V85.3" class="dg"/><path d="M40.6,52.0C44.5,57.0 48.6,66.0 49.9,73.7C48.6,81.5 44.5,90.0 40.9,94.5" class="dgc"/><path d="M0.9,49.0Q-0.3,73.5 0.9,98.0" class="dgt"/><path d="M57,50.3L54.7,52.2V57.2L60.4,65.5M60.4,81.0L54.7,89.1V94.3L57.5,96.4" class="k" style="stroke-width:0.95"/><path d="M60.4,65.5C62.4,70.0 62.4,76.5 60.4,81.0" class="dg"/><path d="M56.8,60.0C58.6,67.0 58.6,79.0 56.8,86.5" class="dgt"/><path d="M55,57.0L62,55.6L68.4,55.2M55,89.6L62,91.3L69.6,92.0" class="dgt"/><path d="M56.6,49.0L58.2,50.4L66,51.4L68.6,55.5C72.4,65.0 72.4,82.0 70,92.0L67,94.4L62,95.8L57.5,96.4" class="dg"/><path d="M58,48.8L66.6,49.4L68.6,53.6L62.5,53.6Z" class="pf"/><path d="M67.8,90.0L71.6,89.6L72,94.2L68.2,94.4Z" class="pf"/><rect x="12.8" y="86.5" width="31.6" height="3.6" rx="1.8" class="sb"/><path d="M0.9,98V98.7H14.5M43,96.3H45L47,98.9H61.9V96" class="dg"/><path d="M14.5,98.9H20.6" class="r" style="stroke-width:1.6"/><rect x="20.6" y="96.7" width="22.5" height="4.2" rx="1.6" class="k" style="stroke-width:1.05;stroke:#0a1e0a"/><path d="M33.4,100.8H46L48.7,100.2" class="br"/></g>
<g transform="translate(564.90,100.70)"><path d="M0.9,0H22L23.4,1.3H44.4L47,0H57" class="dg"/><path d="M23.4,1.0H46" class="dg" style="stroke-width:1.7"/><path d="M12.4,-1.1H18.2" class="p" style="stroke-width:1.3"/><path d="M17.8,13.2V36.3M37.7,12.2V36.3" class="dg"/><path d="M40.6,3.0C44.5,8.0 48.6,17.0 49.9,24.7C48.6,32.5 44.5,41.0 40.9,45.5" class="dgc"/><path d="M0.9,0.0Q-0.3,24.5 0.9,49.0" class="dgt"/><path d="M57,1.3L54.7,3.2V8.2L60.4,16.5M60.4,32.0L54.7,40.1V45.3L57.5,47.4" class="k" style="stroke-width:0.95"/><path d="M60.4,16.5C62.4,21.0 62.4,27.5 60.4,32.0" class="dg"/><path d="M56.8,11.0C58.6,18.0 58.6,30.0 56.8,37.5" class="dgt"/><path d="M55,8.0L62,6.6L68.4,6.2M55,40.6L62,42.3L69.6,43.0" class="dgt"/><path d="M56.6,0.0L58.2,1.4L66,2.4L68.6,6.5C72.4,16.0 72.4,33.0 70,43.0L67,45.4L62,46.8L57.5,47.4" class="dg"/><path d="M58,-0.2L66.6,0.4L68.6,4.6L62.5,4.6Z" class="pf"/><path d="M67.8,41.0L71.6,40.6L72,45.2L68.2,45.4Z" class="pf"/><path d="M0.9,49H60" class="dg" style="stroke-width:2"/><path d="M17.8,62.2V85.3M37.7,61.2V85.3" class="dg"/><path d="M40.6,52.0C44.5,57.0 48.6,66.0 49.9,73.7C48.6,81.5 44.5,90.0 40.9,94.5" class="dgc"/><path d="M0.9,49.0Q-0.3,73.5 0.9,98.0" class="dgt"/><path d="M57,50.3L54.7,52.2V57.2L60.4,65.5M60.4,81.0L54.7,89.1V94.3L57.5,96.4" class="k" style="stroke-width:0.95"/><path d="M60.4,65.5C62.4,70.0 62.4,76.5 60.4,81.0" class="dg"/><path d="M56.8,60.0C58.6,67.0 58.6,79.0 56.8,86.5" class="dgt"/><path d="M55,57.0L62,55.6L68.4,55.2M55,89.6L62,91.3L69.6,92.0" class="dgt"/><path d="M56.6,49.0L58.2,50.4L66,51.4L68.6,55.5C72.4,65.0 72.4,82.0 70,92.0L67,94.4L62,95.8L57.5,96.4" class="dg"/><path d="M58,48.8L66.6,49.4L68.6,53.6L62.5,53.6Z" class="pf"/><path d="M67.8,90.0L71.6,89.6L72,94.2L68.2,94.4Z" class="pf"/><rect x="12.8" y="86.5" width="31.6" height="3.6" rx="1.8" class="sb"/><path d="M0.9,98V98.7H14.5M43,96.3H45L47,98.9H61.9V96" class="dg"/><path d="M14.5,98.9H20.6" class="r" style="stroke-width:1.6"/><rect x="20.6" y="96.7" width="22.5" height="4.2" rx="1.6" class="k" style="stroke-width:1.05;stroke:#0a1e0a"/><path d="M33.4,100.8H46L48.7,100.2" class="br"/></g>
<g transform="translate(652.05,100.70)"><path d="M0.9,0H22L23.4,1.3H44.4L47,0H57" class="dg"/><path d="M23.4,1.0H46" class="dg" style="stroke-width:1.7"/><path d="M12.4,-1.1H18.2" class="p" style="stroke-width:1.3"/><path d="M17.8,13.2V36.3M37.7,12.2V36.3" class="dg"/><path d="M40.6,3.0C44.5,8.0 48.6,17.0 49.9,24.7C48.6,32.5 44.5,41.0 40.9,45.5" class="dgc"/><path d="M0.9,0.0Q-0.3,24.5 0.9,49.0" class="dgt"/><path d="M57,1.3L54.7,3.2V8.2L60.4,16.5M60.4,32.0L54.7,40.1V45.3L57.5,47.4" class="k" style="stroke-width:0.95"/><path d="M60.4,16.5C62.4,21.0 62.4,27.5 60.4,32.0" class="dg"/><path d="M56.8,11.0C58.6,18.0 58.6,30.0 56.8,37.5" class="dgt"/><path d="M55,8.0L62,6.6L68.4,6.2M55,40.6L62,42.3L69.6,43.0" class="dgt"/><path d="M56.6,0.0L58.2,1.4L66,2.4L68.6,6.5C72.4,16.0 72.4,33.0 70,43.0L67,45.4L62,46.8L57.5,47.4" class="dg"/><path d="M58,-0.2L66.6,0.4L68.6,4.6L62.5,4.6Z" class="pf"/><path d="M67.8,41.0L71.6,40.6L72,45.2L68.2,45.4Z" class="pf"/><path d="M0.9,49H60" class="dg" style="stroke-width:2"/><path d="M17.8,62.2V85.3M37.7,61.2V85.3" class="dg"/><path d="M40.6,52.0C44.5,57.0 48.6,66.0 49.9,73.7C48.6,81.5 44.5,90.0 40.9,94.5" class="dgc"/><path d="M0.9,49.0Q-0.3,73.5 0.9,98.0" class="dgt"/><path d="M57,50.3L54.7,52.2V57.2L60.4,65.5M60.4,81.0L54.7,89.1V94.3L57.5,96.4" class="k" style="stroke-width:0.95"/><path d="M60.4,65.5C62.4,70.0 62.4,76.5 60.4,81.0" class="dg"/><path d="M56.8,60.0C58.6,67.0 58.6,79.0 56.8,86.5" class="dgt"/><path d="M55,57.0L62,55.6L68.4,55.2M55,89.6L62,91.3L69.6,92.0" class="dgt"/><path d="M56.6,49.0L58.2,50.4L66,51.4L68.6,55.5C72.4,65.0 72.4,82.0 70,92.0L67,94.4L62,95.8L57.5,96.4" class="dg"/><path d="M58,48.8L66.6,49.4L68.6,53.6L62.5,53.6Z" class="pf"/><path d="M67.8,90.0L71.6,89.6L72,94.2L68.2,94.4Z" class="pf"/><rect x="12.8" y="86.5" width="31.6" height="3.6" rx="1.8" class="sb"/><path d="M0.9,98V98.7H14.5M43,96.3H45L47,98.9H61.9V96" class="dg"/><path d="M14.5,98.9H20.6" class="r" style="stroke-width:1.6"/><rect x="20.6" y="96.7" width="22.5" height="4.2" rx="1.6" class="k" style="stroke-width:1.05;stroke:#0a1e0a"/><path d="M33.4,100.8H46L48.7,100.2" class="br"/></g>
<g transform="translate(919.50,100.70)"><path d="M0.9,0H22L23.4,1.3H44.4L47,0H57" class="dg"/><path d="M23.4,1.0H46" class="dg" style="stroke-width:1.7"/><path d="M12.4,-1.1H18.2" class="p" style="stroke-width:1.3"/><path d="M17.8,13.2V36.3M37.7,12.2V36.3" class="dg"/><path d="M40.6,3.0C44.5,8.0 48.6,17.0 49.9,24.7C48.6,32.5 44.5,41.0 40.9,45.5" class="dgc"/><path d="M0.9,0.0Q-0.3,24.5 0.9,49.0" class="dgt"/><path d="M57,1.3L54.7,3.2V8.2L60.4,16.5M60.4,32.0L54.7,40.1V45.3L57.5,47.4" class="k" style="stroke-width:0.95"/><path d="M60.4,16.5C62.4,21.0 62.4,27.5 60.4,32.0" class="dg"/><path d="M56.8,11.0C58.6,18.0 58.6,30.0 56.8,37.5" class="dgt"/><path d="M55,8.0L62,6.6L68.4,6.2M55,40.6L62,42.3L69.6,43.0" class="dgt"/><path d="M56.6,0.0L58.2,1.4L66,2.4L68.6,6.5C72.4,16.0 72.4,33.0 70,43.0L67,45.4L62,46.8L57.5,47.4" class="dg"/><path d="M58,-0.2L66.6,0.4L68.6,4.6L62.5,4.6Z" class="pf"/><path d="M67.8,41.0L71.6,40.6L72,45.2L68.2,45.4Z" class="pf"/><path d="M0.9,49H60" class="dg" style="stroke-width:2"/><path d="M17.8,62.2V85.3M37.7,61.2V85.3" class="dg"/><path d="M40.6,52.0C44.5,57.0 48.6,66.0 49.9,73.7C48.6,81.5 44.5,90.0 40.9,94.5" class="dgc"/><path d="M0.9,49.0Q-0.3,73.5 0.9,98.0" class="dgt"/><path d="M57,50.3L54.7,52.2V57.2L60.4,65.5M60.4,81.0L54.7,89.1V94.3L57.5,96.4" class="k" style="stroke-width:0.95"/><path d="M60.4,65.5C62.4,70.0 62.4,76.5 60.4,81.0" class="dg"/><path d="M56.8,60.0C58.6,67.0 58.6,79.0 56.8,86.5" class="dgt"/><path d="M55,57.0L62,55.6L68.4,55.2M55,89.6L62,91.3L69.6,92.0" class="dgt"/><path d="M56.6,49.0L58.2,50.4L66,51.4L68.6,55.5C72.4,65.0 72.4,82.0 70,92.0L67,94.4L62,95.8L57.5,96.4" class="dg"/><path d="M58,48.8L66.6,49.4L68.6,53.6L62.5,53.6Z" class="pf"/><path d="M67.8,90.0L71.6,89.6L72,94.2L68.2,94.4Z" class="pf"/><rect x="12.8" y="86.5" width="31.6" height="3.6" rx="1.8" class="sb"/><path d="M0.9,98V98.7H14.5M43,96.3H45L47,98.9H61.9V96" class="dg"/><path d="M14.5,98.9H20.6" class="r" style="stroke-width:1.6"/><rect x="20.6" y="96.7" width="22.5" height="4.2" rx="1.6" class="k" style="stroke-width:1.05;stroke:#0a1e0a"/><path d="M33.4,100.8H46L48.7,100.2" class="br"/></g>
<g transform="translate(1006.65,100.70)"><path d="M0.9,0H22L23.4,1.3H44.4L47,0H57" class="dg"/><path d="M23.4,1.0H46" class="dg" style="stroke-width:1.7"/><path d="M12.4,-1.1H18.2" class="p" style="stroke-width:1.3"/><path d="M17.8,13.2V36.3M37.7,12.2V36.3" class="dg"/><path d="M40.6,3.0C44.5,8.0 48.6,17.0 49.9,24.7C48.6,32.5 44.5,41.0 40.9,45.5" class="dgc"/><path d="M0.9,0.0Q-0.3,24.5 0.9,49.0" class="dgt"/><path d="M57,1.3L54.7,3.2V8.2L60.4,16.5M60.4,32.0L54.7,40.1V45.3L57.5,47.4" class="k" style="stroke-width:0.95"/><path d="M60.4,16.5C62.4,21.0 62.4,27.5 60.4,32.0" class="dg"/><path d="M56.8,11.0C58.6,18.0 58.6,30.0 56.8,37.5" class="dgt"/><path d="M55,8.0L62,6.6L68.4,6.2M55,40.6L62,42.3L69.6,43.0" class="dgt"/><path d="M56.6,0.0L58.2,1.4L66,2.4L68.6,6.5C72.4,16.0 72.4,33.0 70,43.0L67,45.4L62,46.8L57.5,47.4" class="dg"/><path d="M58,-0.2L66.6,0.4L68.6,4.6L62.5,4.6Z" class="pf"/><path d="M67.8,41.0L71.6,40.6L72,45.2L68.2,45.4Z" class="pf"/><path d="M0.9,49H60" class="dg" style="stroke-width:2"/><path d="M17.8,62.2V85.3M37.7,61.2V85.3" class="dg"/><path d="M40.6,52.0C44.5,57.0 48.6,66.0 49.9,73.7C48.6,81.5 44.5,90.0 40.9,94.5" class="dgc"/><path d="M0.9,49.0Q-0.3,73.5 0.9,98.0" class="dgt"/><path d="M57,50.3L54.7,52.2V57.2L60.4,65.5M60.4,81.0L54.7,89.1V94.3L57.5,96.4" class="k" style="stroke-width:0.95"/><path d="M60.4,65.5C62.4,70.0 62.4,76.5 60.4,81.0" class="dg"/><path d="M56.8,60.0C58.6,67.0 58.6,79.0 56.8,86.5" class="dgt"/><path d="M55,57.0L62,55.6L68.4,55.2M55,89.6L62,91.3L69.6,92.0" class="dgt"/><path d="M56.6,49.0L58.2,50.4L66,51.4L68.6,55.5C72.4,65.0 72.4,82.0 70,92.0L67,94.4L62,95.8L57.5,96.4" class="dg"/><path d="M58,48.8L66.6,49.4L68.6,53.6L62.5,53.6Z" class="pf"/><path d="M67.8,90.0L71.6,89.6L72,94.2L68.2,94.4Z" class="pf"/><rect x="12.8" y="86.5" width="31.6" height="3.6" rx="1.8" class="sb"/><path d="M0.9,98V98.7H14.5M43,96.3H45L47,98.9H61.9V96" class="dg"/><path d="M14.5,98.9H20.6" class="r" style="stroke-width:1.6"/><rect x="20.6" y="96.7" width="22.5" height="4.2" rx="1.6" class="k" style="stroke-width:1.05;stroke:#0a1e0a"/><path d="M33.4,100.8H46L48.7,100.2" class="br"/></g>
<g transform="translate(1093.80,100.70)"><path d="M0.9,0H22L23.4,1.3H44.4L47,0H57" class="dg"/><path d="M23.4,1.0H46" class="dg" style="stroke-width:1.7"/><path d="M12.4,-1.1H18.2" class="p" style="stroke-width:1.3"/><path d="M17.8,13.2V36.3M37.7,12.2V36.3" class="dg"/><path d="M40.6,3.0C44.5,8.0 48.6,17.0 49.9,24.7C48.6,32.5 44.5,41.0 40.9,45.5" class="dgc"/><path d="M0.9,0.0Q-0.3,24.5 0.9,49.0" class="dgt"/><path d="M57,1.3L54.7,3.2V8.2L60.4,16.5M60.4,32.0L54.7,40.1V45.3L57.5,47.4" class="k" style="stroke-width:0.95"/><path d="M60.4,16.5C62.4,21.0 62.4,27.5 60.4,32.0" class="dg"/><path d="M56.8,11.0C58.6,18.0 58.6,30.0 56.8,37.5" class="dgt"/><path d="M55,8.0L62,6.6L68.4,6.2M55,40.6L62,42.3L69.6,43.0" class="dgt"/><path d="M56.6,0.0L58.2,1.4L66,2.4L68.6,6.5C72.4,16.0 72.4,33.0 70,43.0L67,45.4L62,46.8L57.5,47.4" class="dg"/><path d="M58,-0.2L66.6,0.4L68.6,4.6L62.5,4.6Z" class="pf"/><path d="M67.8,41.0L71.6,40.6L72,45.2L68.2,45.4Z" class="pf"/><path d="M0.9,49H60" class="dg" style="stroke-width:2"/><path d="M17.8,62.2V85.3M37.7,61.2V85.3" class="dg"/><path d="M40.6,52.0C44.5,57.0 48.6,66.0 49.9,73.7C48.6,81.5 44.5,90.0 40.9,94.5" class="dgc"/><path d="M0.9,49.0Q-0.3,73.5 0.9,98.0" class="dgt"/><path d="M57,50.3L54.7,52.2V57.2L60.4,65.5M60.4,81.0L54.7,89.1V94.3L57.5,96.4" class="k" style="stroke-width:0.95"/><path d="M60.4,65.5C62.4,70.0 62.4,76.5 60.4,81.0" class="dg"/><path d="M56.8,60.0C58.6,67.0 58.6,79.0 56.8,86.5" class="dgt"/><path d="M55,57.0L62,55.6L68.4,55.2M55,89.6L62,91.3L69.6,92.0" class="dgt"/><path d="M56.6,49.0L58.2,50.4L66,51.4L68.6,55.5C72.4,65.0 72.4,82.0 70,92.0L67,94.4L62,95.8L57.5,96.4" class="dg"/><path d="M58,48.8L66.6,49.4L68.6,53.6L62.5,53.6Z" class="pf"/><path d="M67.8,90.0L71.6,89.6L72,94.2L68.2,94.4Z" class="pf"/><rect x="12.8" y="86.5" width="31.6" height="3.6" rx="1.8" class="sb"/><path d="M0.9,98V98.7H14.5M43,96.3H45L47,98.9H61.9V96" class="dg"/><path d="M14.5,98.9H20.6" class="r" style="stroke-width:1.6"/><rect x="20.6" y="96.7" width="22.5" height="4.2" rx="1.6" class="k" style="stroke-width:1.05;stroke:#0a1e0a"/><path d="M33.4,100.8H46L48.7,100.2" class="br"/></g>
<g transform="translate(1180.95,100.70)"><path d="M0.9,0H22L23.4,1.3H44.4L47,0H57" class="dg"/><path d="M23.4,1.0H46" class="dg" style="stroke-width:1.7"/><path d="M12.4,-1.1H18.2" class="p" style="stroke-width:1.3"/><path d="M17.8,13.2V36.3M37.7,12.2V36.3" class="dg"/><path d="M40.6,3.0C44.5,8.0 48.6,17.0 49.9,24.7C48.6,32.5 44.5,41.0 40.9,45.5" class="dgc"/><path d="M0.9,0.0Q-0.3,24.5 0.9,49.0" class="dgt"/><path d="M57,1.3L54.7,3.2V8.2L60.4,16.5M60.4,32.0L54.7,40.1V45.3L57.5,47.4" class="k" style="stroke-width:0.95"/><path d="M60.4,16.5C62.4,21.0 62.4,27.5 60.4,32.0" class="dg"/><path d="M56.8,11.0C58.6,18.0 58.6,30.0 56.8,37.5" class="dgt"/><path d="M55,8.0L62,6.6L68.4,6.2M55,40.6L62,42.3L69.6,43.0" class="dgt"/><path d="M56.6,0.0L58.2,1.4L66,2.4L68.6,6.5C72.4,16.0 72.4,33.0 70,43.0L67,45.4L62,46.8L57.5,47.4" class="dg"/><path d="M58,-0.2L66.6,0.4L68.6,4.6L62.5,4.6Z" class="pf"/><path d="M67.8,41.0L71.6,40.6L72,45.2L68.2,45.4Z" class="pf"/><path d="M0.9,49H60" class="dg" style="stroke-width:2"/><path d="M17.8,62.2V85.3M37.7,61.2V85.3" class="dg"/><path d="M40.6,52.0C44.5,57.0 48.6,66.0 49.9,73.7C48.6,81.5 44.5,90.0 40.9,94.5" class="dgc"/><path d="M0.9,49.0Q-0.3,73.5 0.9,98.0" class="dgt"/><path d="M57,50.3L54.7,52.2V57.2L60.4,65.5M60.4,81.0L54.7,89.1V94.3L57.5,96.4" class="k" style="stroke-width:0.95"/><path d="M60.4,65.5C62.4,70.0 62.4,76.5 60.4,81.0" class="dg"/><path d="M56.8,60.0C58.6,67.0 58.6,79.0 56.8,86.5" class="dgt"/><path d="M55,57.0L62,55.6L68.4,55.2M55,89.6L62,91.3L69.6,92.0" class="dgt"/><path d="M56.6,49.0L58.2,50.4L66,51.4L68.6,55.5C72.4,65.0 72.4,82.0 70,92.0L67,94.4L62,95.8L57.5,96.4" class="dg"/><path d="M58,48.8L66.6,49.4L68.6,53.6L62.5,53.6Z" class="pf"/><path d="M67.8,90.0L71.6,89.6L72,94.2L68.2,94.4Z" class="pf"/><rect x="12.8" y="86.5" width="31.6" height="3.6" rx="1.8" class="sb"/><path d="M0.9,98V98.7H14.5M43,96.3H45L47,98.9H61.9V96" class="dg"/><path d="M14.5,98.9H20.6" class="r" style="stroke-width:1.6"/><rect x="20.6" y="96.7" width="22.5" height="4.2" rx="1.6" class="k" style="stroke-width:1.05;stroke:#0a1e0a"/><path d="M33.4,100.8H46L48.7,100.2" class="br"/></g>
<g transform="translate(1268.10,100.70)"><path d="M0.9,0H22L23.4,1.3H44.4L47,0H57" class="dg"/><path d="M23.4,1.0H46" class="dg" style="stroke-width:1.7"/><path d="M12.4,-1.1H18.2" class="p" style="stroke-width:1.3"/><path d="M17.8,13.2V36.3M37.7,12.2V36.3" class="dg"/><path d="M40.6,3.0C44.5,8.0 48.6,17.0 49.9,24.7C48.6,32.5 44.5,41.0 40.9,45.5" class="dgc"/><path d="M0.9,0.0Q-0.3,24.5 0.9,49.0" class="dgt"/><path d="M57,1.3L54.7,3.2V8.2L60.4,16.5M60.4,32.0L54.7,40.1V45.3L57.5,47.4" class="k" style="stroke-width:0.95"/><path d="M60.4,16.5C62.4,21.0 62.4,27.5 60.4,32.0" class="dg"/><path d="M56.8,11.0C58.6,18.0 58.6,30.0 56.8,37.5" class="dgt"/><path d="M55,8.0L62,6.6L68.4,6.2M55,40.6L62,42.3L69.6,43.0" class="dgt"/><path d="M56.6,0.0L58.2,1.4L66,2.4L68.6,6.5C72.4,16.0 72.4,33.0 70,43.0L67,45.4L62,46.8L57.5,47.4" class="dg"/><path d="M58,-0.2L66.6,0.4L68.6,4.6L62.5,4.6Z" class="pf"/><path d="M67.8,41.0L71.6,40.6L72,45.2L68.2,45.4Z" class="pf"/><path d="M0.9,49H60" class="dg" style="stroke-width:2"/><path d="M17.8,62.2V85.3M37.7,61.2V85.3" class="dg"/><path d="M40.6,52.0C44.5,57.0 48.6,66.0 49.9,73.7C48.6,81.5 44.5,90.0 40.9,94.5" class="dgc"/><path d="M0.9,49.0Q-0.3,73.5 0.9,98.0" class="dgt"/><path d="M57,50.3L54.7,52.2V57.2L60.4,65.5M60.4,81.0L54.7,89.1V94.3L57.5,96.4" class="k" style="stroke-width:0.95"/><path d="M60.4,65.5C62.4,70.0 62.4,76.5 60.4,81.0" class="dg"/><path d="M56.8,60.0C58.6,67.0 58.6,79.0 56.8,86.5" class="dgt"/><path d="M55,57.0L62,55.6L68.4,55.2M55,89.6L62,91.3L69.6,92.0" class="dgt"/><path d="M56.6,49.0L58.2,50.4L66,51.4L68.6,55.5C72.4,65.0 72.4,82.0 70,92.0L67,94.4L62,95.8L57.5,96.4" class="dg"/><path d="M58,48.8L66.6,49.4L68.6,53.6L62.5,53.6Z" class="pf"/><path d="M67.8,90.0L71.6,89.6L72,94.2L68.2,94.4Z" class="pf"/><rect x="12.8" y="86.5" width="31.6" height="3.6" rx="1.8" class="sb"/><path d="M0.9,98V98.7H14.5M43,96.3H45L47,98.9H61.9V96" class="dg"/><path d="M14.5,98.9H20.6" class="r" style="stroke-width:1.6"/><rect x="20.6" y="96.7" width="22.5" height="4.2" rx="1.6" class="k" style="stroke-width:1.05;stroke:#0a1e0a"/><path d="M33.4,100.8H46L48.7,100.2" class="br"/></g>
<g transform="translate(314.40,352.20) scale(1,-1)"><path d="M0.9,0H22L23.4,1.3H44.4L47,0H57" class="dg"/><path d="M23.4,1.0H46" class="dg" style="stroke-width:1.7"/><path d="M12.4,-1.1H18.2" class="p" style="stroke-width:1.3"/><path d="M17.8,13.2V36.3M37.7,12.2V36.3" class="dg"/><path d="M40.6,3.0C44.5,8.0 48.6,17.0 49.9,24.7C48.6,32.5 44.5,41.0 40.9,45.5" class="dgc"/><path d="M0.9,0.0Q-0.3,24.5 0.9,49.0" class="dgt"/><path d="M57,1.3L54.7,3.2V8.2L60.4,16.5M60.4,32.0L54.7,40.1V45.3L57.5,47.4" class="k" style="stroke-width:0.95"/><path d="M60.4,16.5C62.4,21.0 62.4,27.5 60.4,32.0" class="dg"/><path d="M56.8,11.0C58.6,18.0 58.6,30.0 56.8,37.5" class="dgt"/><path d="M55,8.0L62,6.6L68.4,6.2M55,40.6L62,42.3L69.6,43.0" class="dgt"/><path d="M56.6,0.0L58.2,1.4L66,2.4L68.6,6.5C72.4,16.0 72.4,33.0 70,43.0L67,45.4L62,46.8L57.5,47.4" class="dg"/><path d="M58,-0.2L66.6,0.4L68.6,4.6L62.5,4.6Z" class="pf"/><path d="M67.8,41.0L71.6,40.6L72,45.2L68.2,45.4Z" class="pf"/><path d="M0.9,49H60" class="dg" style="stroke-width:2"/><path d="M17.8,62.2V85.3M37.7,61.2V85.3" class="dg"/><path d="M40.6,52.0C44.5,57.0 48.6,66.0 49.9,73.7C48.6,81.5 44.5,90.0 40.9,94.5" class="dgc"/><path d="M0.9,49.0Q-0.3,73.5 0.9,98.0" class="dgt"/><path d="M57,50.3L54.7,52.2V57.2L60.4,65.5M60.4,81.0L54.7,89.1V94.3L57.5,96.4" class="k" style="stroke-width:0.95"/><path d="M60.4,65.5C62.4,70.0 62.4,76.5 60.4,81.0" class="dg"/><path d="M56.8,60.0C58.6,67.0 58.6,79.0 56.8,86.5" class="dgt"/><path d="M55,57.0L62,55.6L68.4,55.2M55,89.6L62,91.3L69.6,92.0" class="dgt"/><path d="M56.6,49.0L58.2,50.4L66,51.4L68.6,55.5C72.4,65.0 72.4,82.0 70,92.0L67,94.4L62,95.8L57.5,96.4" class="dg"/><path d="M58,48.8L66.6,49.4L68.6,53.6L62.5,53.6Z" class="pf"/><path d="M67.8,90.0L71.6,89.6L72,94.2L68.2,94.4Z" class="pf"/><rect x="12.8" y="86.5" width="31.6" height="3.6" rx="1.8" class="sb"/><path d="M0.9,98V98.7H14.5M43,96.3H45L47,98.9H61.9V96" class="dg"/><path d="M14.5,98.9H20.6" class="r" style="stroke-width:1.6"/><rect x="20.6" y="96.7" width="22.5" height="4.2" rx="1.6" class="k" style="stroke-width:1.05;stroke:#0a1e0a"/><path d="M33.4,100.8H46L48.7,100.2" class="br"/></g>
<g transform="translate(401.55,352.20) scale(1,-1)"><path d="M0.9,0H22L23.4,1.3H44.4L47,0H57" class="dg"/><path d="M23.4,1.0H46" class="dg" style="stroke-width:1.7"/><path d="M12.4,-1.1H18.2" class="p" style="stroke-width:1.3"/><path d="M17.8,13.2V36.3M37.7,12.2V36.3" class="dg"/><path d="M40.6,3.0C44.5,8.0 48.6,17.0 49.9,24.7C48.6,32.5 44.5,41.0 40.9,45.5" class="dgc"/><path d="M0.9,0.0Q-0.3,24.5 0.9,49.0" class="dgt"/><path d="M57,1.3L54.7,3.2V8.2L60.4,16.5M60.4,32.0L54.7,40.1V45.3L57.5,47.4" class="k" style="stroke-width:0.95"/><path d="M60.4,16.5C62.4,21.0 62.4,27.5 60.4,32.0" class="dg"/><path d="M56.8,11.0C58.6,18.0 58.6,30.0 56.8,37.5" class="dgt"/><path d="M55,8.0L62,6.6L68.4,6.2M55,40.6L62,42.3L69.6,43.0" class="dgt"/><path d="M56.6,0.0L58.2,1.4L66,2.4L68.6,6.5C72.4,16.0 72.4,33.0 70,43.0L67,45.4L62,46.8L57.5,47.4" class="dg"/><path d="M58,-0.2L66.6,0.4L68.6,4.6L62.5,4.6Z" class="pf"/><path d="M67.8,41.0L71.6,40.6L72,45.2L68.2,45.4Z" class="pf"/><path d="M0.9,49H60" class="dg" style="stroke-width:2"/><path d="M17.8,62.2V85.3M37.7,61.2V85.3" class="dg"/><path d="M40.6,52.0C44.5,57.0 48.6,66.0 49.9,73.7C48.6,81.5 44.5,90.0 40.9,94.5" class="dgc"/><path d="M0.9,49.0Q-0.3,73.5 0.9,98.0" class="dgt"/><path d="M57,50.3L54.7,52.2V57.2L60.4,65.5M60.4,81.0L54.7,89.1V94.3L57.5,96.4" class="k" style="stroke-width:0.95"/><path d="M60.4,65.5C62.4,70.0 62.4,76.5 60.4,81.0" class="dg"/><path d="M56.8,60.0C58.6,67.0 58.6,79.0 56.8,86.5" class="dgt"/><path d="M55,57.0L62,55.6L68.4,55.2M55,89.6L62,91.3L69.6,92.0" class="dgt"/><path d="M56.6,49.0L58.2,50.4L66,51.4L68.6,55.5C72.4,65.0 72.4,82.0 70,92.0L67,94.4L62,95.8L57.5,96.4" class="dg"/><path d="M58,48.8L66.6,49.4L68.6,53.6L62.5,53.6Z" class="pf"/><path d="M67.8,90.0L71.6,89.6L72,94.2L68.2,94.4Z" class="pf"/><rect x="12.8" y="86.5" width="31.6" height="3.6" rx="1.8" class="sb"/><path d="M0.9,98V98.7H14.5M43,96.3H45L47,98.9H61.9V96" class="dg"/><path d="M14.5,98.9H20.6" class="r" style="stroke-width:1.6"/><rect x="20.6" y="96.7" width="22.5" height="4.2" rx="1.6" class="k" style="stroke-width:1.05;stroke:#0a1e0a"/><path d="M33.4,100.8H46L48.7,100.2" class="br"/></g>
<g transform="translate(488.70,352.20) scale(1,-1)"><path d="M0.9,0H22L23.4,1.3H44.4L47,0H57" class="dg"/><path d="M23.4,1.0H46" class="dg" style="stroke-width:1.7"/><path d="M12.4,-1.1H18.2" class="p" style="stroke-width:1.3"/><path d="M17.8,13.2V36.3M37.7,12.2V36.3" class="dg"/><path d="M40.6,3.0C44.5,8.0 48.6,17.0 49.9,24.7C48.6,32.5 44.5,41.0 40.9,45.5" class="dgc"/><path d="M0.9,0.0Q-0.3,24.5 0.9,49.0" class="dgt"/><path d="M57,1.3L54.7,3.2V8.2L60.4,16.5M60.4,32.0L54.7,40.1V45.3L57.5,47.4" class="k" style="stroke-width:0.95"/><path d="M60.4,16.5C62.4,21.0 62.4,27.5 60.4,32.0" class="dg"/><path d="M56.8,11.0C58.6,18.0 58.6,30.0 56.8,37.5" class="dgt"/><path d="M55,8.0L62,6.6L68.4,6.2M55,40.6L62,42.3L69.6,43.0" class="dgt"/><path d="M56.6,0.0L58.2,1.4L66,2.4L68.6,6.5C72.4,16.0 72.4,33.0 70,43.0L67,45.4L62,46.8L57.5,47.4" class="dg"/><path d="M58,-0.2L66.6,0.4L68.6,4.6L62.5,4.6Z" class="pf"/><path d="M67.8,41.0L71.6,40.6L72,45.2L68.2,45.4Z" class="pf"/><path d="M0.9,49H60" class="dg" style="stroke-width:2"/><path d="M17.8,62.2V85.3M37.7,61.2V85.3" class="dg"/><path d="M40.6,52.0C44.5,57.0 48.6,66.0 49.9,73.7C48.6,81.5 44.5,90.0 40.9,94.5" class="dgc"/><path d="M0.9,49.0Q-0.3,73.5 0.9,98.0" class="dgt"/><path d="M57,50.3L54.7,52.2V57.2L60.4,65.5M60.4,81.0L54.7,89.1V94.3L57.5,96.4" class="k" style="stroke-width:0.95"/><path d="M60.4,65.5C62.4,70.0 62.4,76.5 60.4,81.0" class="dg"/><path d="M56.8,60.0C58.6,67.0 58.6,79.0 56.8,86.5" class="dgt"/><path d="M55,57.0L62,55.6L68.4,55.2M55,89.6L62,91.3L69.6,92.0" class="dgt"/><path d="M56.6,49.0L58.2,50.4L66,51.4L68.6,55.5C72.4,65.0 72.4,82.0 70,92.0L67,94.4L62,95.8L57.5,96.4" class="dg"/><path d="M58,48.8L66.6,49.4L68.6,53.6L62.5,53.6Z" class="pf"/><path d="M67.8,90.0L71.6,89.6L72,94.2L68.2,94.4Z" class="pf"/><rect x="12.8" y="86.5" width="31.6" height="3.6" rx="1.8" class="sb"/><path d="M0.9,98V98.7H14.5M43,96.3H45L47,98.9H61.9V96" class="dg"/><path d="M14.5,98.9H20.6" class="r" style="stroke-width:1.6"/><rect x="20.6" y="96.7" width="22.5" height="4.2" rx="1.6" class="k" style="stroke-width:1.05;stroke:#0a1e0a"/><path d="M33.4,100.8H46L48.7,100.2" class="br"/></g>
<g transform="translate(575.85,352.20) scale(1,-1)"><path d="M0.9,0H22L23.4,1.3H44.4L47,0H57" class="dg"/><path d="M23.4,1.0H46" class="dg" style="stroke-width:1.7"/><path d="M12.4,-1.1H18.2" class="p" style="stroke-width:1.3"/><path d="M17.8,13.2V36.3M37.7,12.2V36.3" class="dg"/><path d="M40.6,3.0C44.5,8.0 48.6,17.0 49.9,24.7C48.6,32.5 44.5,41.0 40.9,45.5" class="dgc"/><path d="M0.9,0.0Q-0.3,24.5 0.9,49.0" class="dgt"/><path d="M57,1.3L54.7,3.2V8.2L60.4,16.5M60.4,32.0L54.7,40.1V45.3L57.5,47.4" class="k" style="stroke-width:0.95"/><path d="M60.4,16.5C62.4,21.0 62.4,27.5 60.4,32.0" class="dg"/><path d="M56.8,11.0C58.6,18.0 58.6,30.0 56.8,37.5" class="dgt"/><path d="M55,8.0L62,6.6L68.4,6.2M55,40.6L62,42.3L69.6,43.0" class="dgt"/><path d="M56.6,0.0L58.2,1.4L66,2.4L68.6,6.5C72.4,16.0 72.4,33.0 70,43.0L67,45.4L62,46.8L57.5,47.4" class="dg"/><path d="M58,-0.2L66.6,0.4L68.6,4.6L62.5,4.6Z" class="pf"/><path d="M67.8,41.0L71.6,40.6L72,45.2L68.2,45.4Z" class="pf"/><path d="M0.9,49H60" class="dg" style="stroke-width:2"/><path d="M17.8,62.2V85.3M37.7,61.2V85.3" class="dg"/><path d="M40.6,52.0C44.5,57.0 48.6,66.0 49.9,73.7C48.6,81.5 44.5,90.0 40.9,94.5" class="dgc"/><path d="M0.9,49.0Q-0.3,73.5 0.9,98.0" class="dgt"/><path d="M57,50.3L54.7,52.2V57.2L60.4,65.5M60.4,81.0L54.7,89.1V94.3L57.5,96.4" class="k" style="stroke-width:0.95"/><path d="M60.4,65.5C62.4,70.0 62.4,76.5 60.4,81.0" class="dg"/><path d="M56.8,60.0C58.6,67.0 58.6,79.0 56.8,86.5" class="dgt"/><path d="M55,57.0L62,55.6L68.4,55.2M55,89.6L62,91.3L69.6,92.0" class="dgt"/><path d="M56.6,49.0L58.2,50.4L66,51.4L68.6,55.5C72.4,65.0 72.4,82.0 70,92.0L67,94.4L62,95.8L57.5,96.4" class="dg"/><path d="M58,48.8L66.6,49.4L68.6,53.6L62.5,53.6Z" class="pf"/><path d="M67.8,90.0L71.6,89.6L72,94.2L68.2,94.4Z" class="pf"/><rect x="12.8" y="86.5" width="31.6" height="3.6" rx="1.8" class="sb"/><path d="M0.9,98V98.7H14.5M43,96.3H45L47,98.9H61.9V96" class="dg"/><path d="M14.5,98.9H20.6" class="r" style="stroke-width:1.6"/><rect x="20.6" y="96.7" width="22.5" height="4.2" rx="1.6" class="k" style="stroke-width:1.05;stroke:#0a1e0a"/><path d="M33.4,100.8H46L48.7,100.2" class="br"/></g>
<g transform="translate(663.00,352.20) scale(1,-1)"><path d="M0.9,0H22L23.4,1.3H44.4L47,0H57" class="dg"/><path d="M23.4,1.0H46" class="dg" style="stroke-width:1.7"/><path d="M12.4,-1.1H18.2" class="p" style="stroke-width:1.3"/><path d="M17.8,13.2V36.3M37.7,12.2V36.3" class="dg"/><path d="M40.6,3.0C44.5,8.0 48.6,17.0 49.9,24.7C48.6,32.5 44.5,41.0 40.9,45.5" class="dgc"/><path d="M0.9,0.0Q-0.3,24.5 0.9,49.0" class="dgt"/><path d="M57,1.3L54.7,3.2V8.2L60.4,16.5M60.4,32.0L54.7,40.1V45.3L57.5,47.4" class="k" style="stroke-width:0.95"/><path d="M60.4,16.5C62.4,21.0 62.4,27.5 60.4,32.0" class="dg"/><path d="M56.8,11.0C58.6,18.0 58.6,30.0 56.8,37.5" class="dgt"/><path d="M55,8.0L62,6.6L68.4,6.2M55,40.6L62,42.3L69.6,43.0" class="dgt"/><path d="M56.6,0.0L58.2,1.4L66,2.4L68.6,6.5C72.4,16.0 72.4,33.0 70,43.0L67,45.4L62,46.8L57.5,47.4" class="dg"/><path d="M58,-0.2L66.6,0.4L68.6,4.6L62.5,4.6Z" class="pf"/><path d="M67.8,41.0L71.6,40.6L72,45.2L68.2,45.4Z" class="pf"/><path d="M0.9,49H60" class="dg" style="stroke-width:2"/><path d="M17.8,62.2V85.3M37.7,61.2V85.3" class="dg"/><path d="M40.6,52.0C44.5,57.0 48.6,66.0 49.9,73.7C48.6,81.5 44.5,90.0 40.9,94.5" class="dgc"/><path d="M0.9,49.0Q-0.3,73.5 0.9,98.0" class="dgt"/><path d="M57,50.3L54.7,52.2V57.2L60.4,65.5M60.4,81.0L54.7,89.1V94.3L57.5,96.4" class="k" style="stroke-width:0.95"/><path d="M60.4,65.5C62.4,70.0 62.4,76.5 60.4,81.0" class="dg"/><path d="M56.8,60.0C58.6,67.0 58.6,79.0 56.8,86.5" class="dgt"/><path d="M55,57.0L62,55.6L68.4,55.2M55,89.6L62,91.3L69.6,92.0" class="dgt"/><path d="M56.6,49.0L58.2,50.4L66,51.4L68.6,55.5C72.4,65.0 72.4,82.0 70,92.0L67,94.4L62,95.8L57.5,96.4" class="dg"/><path d="M58,48.8L66.6,49.4L68.6,53.6L62.5,53.6Z" class="pf"/><path d="M67.8,90.0L71.6,89.6L72,94.2L68.2,94.4Z" class="pf"/><rect x="12.8" y="86.5" width="31.6" height="3.6" rx="1.8" class="sb"/><path d="M0.9,98V98.7H14.5M43,96.3H45L47,98.9H61.9V96" class="dg"/><path d="M14.5,98.9H20.6" class="r" style="stroke-width:1.6"/><rect x="20.6" y="96.7" width="22.5" height="4.2" rx="1.6" class="k" style="stroke-width:1.05;stroke:#0a1e0a"/><path d="M33.4,100.8H46L48.7,100.2" class="br"/></g>
<g transform="translate(750.15,352.20) scale(1,-1)"><path d="M0.9,0H22L23.4,1.3H44.4L47,0H57" class="dg"/><path d="M23.4,1.0H46" class="dg" style="stroke-width:1.7"/><path d="M12.4,-1.1H18.2" class="p" style="stroke-width:1.3"/><path d="M17.8,13.2V36.3M37.7,12.2V36.3" class="dg"/><path d="M40.6,3.0C44.5,8.0 48.6,17.0 49.9,24.7C48.6,32.5 44.5,41.0 40.9,45.5" class="dgc"/><path d="M0.9,0.0Q-0.3,24.5 0.9,49.0" class="dgt"/><path d="M57,1.3L54.7,3.2V8.2L60.4,16.5M60.4,32.0L54.7,40.1V45.3L57.5,47.4" class="k" style="stroke-width:0.95"/><path d="M60.4,16.5C62.4,21.0 62.4,27.5 60.4,32.0" class="dg"/><path d="M56.8,11.0C58.6,18.0 58.6,30.0 56.8,37.5" class="dgt"/><path d="M55,8.0L62,6.6L68.4,6.2M55,40.6L62,42.3L69.6,43.0" class="dgt"/><path d="M56.6,0.0L58.2,1.4L66,2.4L68.6,6.5C72.4,16.0 72.4,33.0 70,43.0L67,45.4L62,46.8L57.5,47.4" class="dg"/><path d="M58,-0.2L66.6,0.4L68.6,4.6L62.5,4.6Z" class="pf"/><path d="M67.8,41.0L71.6,40.6L72,45.2L68.2,45.4Z" class="pf"/><path d="M0.9,49H60" class="dg" style="stroke-width:2"/><path d="M17.8,62.2V85.3M37.7,61.2V85.3" class="dg"/><path d="M40.6,52.0C44.5,57.0 48.6,66.0 49.9,73.7C48.6,81.5 44.5,90.0 40.9,94.5" class="dgc"/><path d="M0.9,49.0Q-0.3,73.5 0.9,98.0" class="dgt"/><path d="M57,50.3L54.7,52.2V57.2L60.4,65.5M60.4,81.0L54.7,89.1V94.3L57.5,96.4" class="k" style="stroke-width:0.95"/><path d="M60.4,65.5C62.4,70.0 62.4,76.5 60.4,81.0" class="dg"/><path d="M56.8,60.0C58.6,67.0 58.6,79.0 56.8,86.5" class="dgt"/><path d="M55,57.0L62,55.6L68.4,55.2M55,89.6L62,91.3L69.6,92.0" class="dgt"/><path d="M56.6,49.0L58.2,50.4L66,51.4L68.6,55.5C72.4,65.0 72.4,82.0 70,92.0L67,94.4L62,95.8L57.5,96.4" class="dg"/><path d="M58,48.8L66.6,49.4L68.6,53.6L62.5,53.6Z" class="pf"/><path d="M67.8,90.0L71.6,89.6L72,94.2L68.2,94.4Z" class="pf"/><rect x="12.8" y="86.5" width="31.6" height="3.6" rx="1.8" class="sb"/><path d="M0.9,98V98.7H14.5M43,96.3H45L47,98.9H61.9V96" class="dg"/><path d="M14.5,98.9H20.6" class="r" style="stroke-width:1.6"/><rect x="20.6" y="96.7" width="22.5" height="4.2" rx="1.6" class="k" style="stroke-width:1.05;stroke:#0a1e0a"/><path d="M33.4,100.8H46L48.7,100.2" class="br"/></g>
<g transform="translate(837.30,352.20) scale(1,-1)"><path d="M0.9,0H22L23.4,1.3H44.4L47,0H57" class="dg"/><path d="M23.4,1.0H46" class="dg" style="stroke-width:1.7"/><path d="M12.4,-1.1H18.2" class="p" style="stroke-width:1.3"/><path d="M17.8,13.2V36.3M37.7,12.2V36.3" class="dg"/><path d="M40.6,3.0C44.5,8.0 48.6,17.0 49.9,24.7C48.6,32.5 44.5,41.0 40.9,45.5" class="dgc"/><path d="M0.9,0.0Q-0.3,24.5 0.9,49.0" class="dgt"/><path d="M57,1.3L54.7,3.2V8.2L60.4,16.5M60.4,32.0L54.7,40.1V45.3L57.5,47.4" class="k" style="stroke-width:0.95"/><path d="M60.4,16.5C62.4,21.0 62.4,27.5 60.4,32.0" class="dg"/><path d="M56.8,11.0C58.6,18.0 58.6,30.0 56.8,37.5" class="dgt"/><path d="M55,8.0L62,6.6L68.4,6.2M55,40.6L62,42.3L69.6,43.0" class="dgt"/><path d="M56.6,0.0L58.2,1.4L66,2.4L68.6,6.5C72.4,16.0 72.4,33.0 70,43.0L67,45.4L62,46.8L57.5,47.4" class="dg"/><path d="M58,-0.2L66.6,0.4L68.6,4.6L62.5,4.6Z" class="pf"/><path d="M67.8,41.0L71.6,40.6L72,45.2L68.2,45.4Z" class="pf"/><path d="M0.9,49H60" class="dg" style="stroke-width:2"/><path d="M17.8,62.2V85.3M37.7,61.2V85.3" class="dg"/><path d="M40.6,52.0C44.5,57.0 48.6,66.0 49.9,73.7C48.6,81.5 44.5,90.0 40.9,94.5" class="dgc"/><path d="M0.9,49.0Q-0.3,73.5 0.9,98.0" class="dgt"/><path d="M57,50.3L54.7,52.2V57.2L60.4,65.5M60.4,81.0L54.7,89.1V94.3L57.5,96.4" class="k" style="stroke-width:0.95"/><path d="M60.4,65.5C62.4,70.0 62.4,76.5 60.4,81.0" class="dg"/><path d="M56.8,60.0C58.6,67.0 58.6,79.0 56.8,86.5" class="dgt"/><path d="M55,57.0L62,55.6L68.4,55.2M55,89.6L62,91.3L69.6,92.0" class="dgt"/><path d="M56.6,49.0L58.2,50.4L66,51.4L68.6,55.5C72.4,65.0 72.4,82.0 70,92.0L67,94.4L62,95.8L57.5,96.4" class="dg"/><path d="M58,48.8L66.6,49.4L68.6,53.6L62.5,53.6Z" class="pf"/><path d="M67.8,90.0L71.6,89.6L72,94.2L68.2,94.4Z" class="pf"/><rect x="12.8" y="86.5" width="31.6" height="3.6" rx="1.8" class="sb"/><path d="M0.9,98V98.7H14.5M43,96.3H45L47,98.9H61.9V96" class="dg"/><path d="M14.5,98.9H20.6" class="r" style="stroke-width:1.6"/><rect x="20.6" y="96.7" width="22.5" height="4.2" rx="1.6" class="k" style="stroke-width:1.05;stroke:#0a1e0a"/><path d="M33.4,100.8H46L48.7,100.2" class="br"/></g>
<g transform="translate(924.45,352.20) scale(1,-1)"><path d="M0.9,0H22L23.4,1.3H44.4L47,0H57" class="dg"/><path d="M23.4,1.0H46" class="dg" style="stroke-width:1.7"/><path d="M12.4,-1.1H18.2" class="p" style="stroke-width:1.3"/><path d="M17.8,13.2V36.3M37.7,12.2V36.3" class="dg"/><path d="M40.6,3.0C44.5,8.0 48.6,17.0 49.9,24.7C48.6,32.5 44.5,41.0 40.9,45.5" class="dgc"/><path d="M0.9,0.0Q-0.3,24.5 0.9,49.0" class="dgt"/><path d="M57,1.3L54.7,3.2V8.2L60.4,16.5M60.4,32.0L54.7,40.1V45.3L57.5,47.4" class="k" style="stroke-width:0.95"/><path d="M60.4,16.5C62.4,21.0 62.4,27.5 60.4,32.0" class="dg"/><path d="M56.8,11.0C58.6,18.0 58.6,30.0 56.8,37.5" class="dgt"/><path d="M55,8.0L62,6.6L68.4,6.2M55,40.6L62,42.3L69.6,43.0" class="dgt"/><path d="M56.6,0.0L58.2,1.4L66,2.4L68.6,6.5C72.4,16.0 72.4,33.0 70,43.0L67,45.4L62,46.8L57.5,47.4" class="dg"/><path d="M58,-0.2L66.6,0.4L68.6,4.6L62.5,4.6Z" class="pf"/><path d="M67.8,41.0L71.6,40.6L72,45.2L68.2,45.4Z" class="pf"/><path d="M0.9,49H60" class="dg" style="stroke-width:2"/><path d="M17.8,62.2V85.3M37.7,61.2V85.3" class="dg"/><path d="M40.6,52.0C44.5,57.0 48.6,66.0 49.9,73.7C48.6,81.5 44.5,90.0 40.9,94.5" class="dgc"/><path d="M0.9,49.0Q-0.3,73.5 0.9,98.0" class="dgt"/><path d="M57,50.3L54.7,52.2V57.2L60.4,65.5M60.4,81.0L54.7,89.1V94.3L57.5,96.4" class="k" style="stroke-width:0.95"/><path d="M60.4,65.5C62.4,70.0 62.4,76.5 60.4,81.0" class="dg"/><path d="M56.8,60.0C58.6,67.0 58.6,79.0 56.8,86.5" class="dgt"/><path d="M55,57.0L62,55.6L68.4,55.2M55,89.6L62,91.3L69.6,92.0" class="dgt"/><path d="M56.6,49.0L58.2,50.4L66,51.4L68.6,55.5C72.4,65.0 72.4,82.0 70,92.0L67,94.4L62,95.8L57.5,96.4" class="dg"/><path d="M58,48.8L66.6,49.4L68.6,53.6L62.5,53.6Z" class="pf"/><path d="M67.8,90.0L71.6,89.6L72,94.2L68.2,94.4Z" class="pf"/><rect x="12.8" y="86.5" width="31.6" height="3.6" rx="1.8" class="sb"/><path d="M0.9,98V98.7H14.5M43,96.3H45L47,98.9H61.9V96" class="dg"/><path d="M14.5,98.9H20.6" class="r" style="stroke-width:1.6"/><rect x="20.6" y="96.7" width="22.5" height="4.2" rx="1.6" class="k" style="stroke-width:1.05;stroke:#0a1e0a"/><path d="M33.4,100.8H46L48.7,100.2" class="br"/></g>
<g transform="translate(1011.60,352.20) scale(1,-1)"><path d="M0.9,0H22L23.4,1.3H44.4L47,0H57" class="dg"/><path d="M23.4,1.0H46" class="dg" style="stroke-width:1.7"/><path d="M12.4,-1.1H18.2" class="p" style="stroke-width:1.3"/><path d="M17.8,13.2V36.3M37.7,12.2V36.3" class="dg"/><path d="M40.6,3.0C44.5,8.0 48.6,17.0 49.9,24.7C48.6,32.5 44.5,41.0 40.9,45.5" class="dgc"/><path d="M0.9,0.0Q-0.3,24.5 0.9,49.0" class="dgt"/><path d="M57,1.3L54.7,3.2V8.2L60.4,16.5M60.4,32.0L54.7,40.1V45.3L57.5,47.4" class="k" style="stroke-width:0.95"/><path d="M60.4,16.5C62.4,21.0 62.4,27.5 60.4,32.0" class="dg"/><path d="M56.8,11.0C58.6,18.0 58.6,30.0 56.8,37.5" class="dgt"/><path d="M55,8.0L62,6.6L68.4,6.2M55,40.6L62,42.3L69.6,43.0" class="dgt"/><path d="M56.6,0.0L58.2,1.4L66,2.4L68.6,6.5C72.4,16.0 72.4,33.0 70,43.0L67,45.4L62,46.8L57.5,47.4" class="dg"/><path d="M58,-0.2L66.6,0.4L68.6,4.6L62.5,4.6Z" class="pf"/><path d="M67.8,41.0L71.6,40.6L72,45.2L68.2,45.4Z" class="pf"/><path d="M0.9,49H60" class="dg" style="stroke-width:2"/><path d="M17.8,62.2V85.3M37.7,61.2V85.3" class="dg"/><path d="M40.6,52.0C44.5,57.0 48.6,66.0 49.9,73.7C48.6,81.5 44.5,90.0 40.9,94.5" class="dgc"/><path d="M0.9,49.0Q-0.3,73.5 0.9,98.0" class="dgt"/><path d="M57,50.3L54.7,52.2V57.2L60.4,65.5M60.4,81.0L54.7,89.1V94.3L57.5,96.4" class="k" style="stroke-width:0.95"/><path d="M60.4,65.5C62.4,70.0 62.4,76.5 60.4,81.0" class="dg"/><path d="M56.8,60.0C58.6,67.0 58.6,79.0 56.8,86.5" class="dgt"/><path d="M55,57.0L62,55.6L68.4,55.2M55,89.6L62,91.3L69.6,92.0" class="dgt"/><path d="M56.6,49.0L58.2,50.4L66,51.4L68.6,55.5C72.4,65.0 72.4,82.0 70,92.0L67,94.4L62,95.8L57.5,96.4" class="dg"/><path d="M58,48.8L66.6,49.4L68.6,53.6L62.5,53.6Z" class="pf"/><path d="M67.8,90.0L71.6,89.6L72,94.2L68.2,94.4Z" class="pf"/><rect x="12.8" y="86.5" width="31.6" height="3.6" rx="1.8" class="sb"/><path d="M0.9,98V98.7H14.5M43,96.3H45L47,98.9H61.9V96" class="dg"/><path d="M14.5,98.9H20.6" class="r" style="stroke-width:1.6"/><rect x="20.6" y="96.7" width="22.5" height="4.2" rx="1.6" class="k" style="stroke-width:1.05;stroke:#0a1e0a"/><path d="M33.4,100.8H46L48.7,100.2" class="br"/></g>
<g transform="translate(1098.75,352.20) scale(1,-1)"><path d="M0.9,0H22L23.4,1.3H44.4L47,0H57" class="dg"/><path d="M23.4,1.0H46" class="dg" style="stroke-width:1.7"/><path d="M12.4,-1.1H18.2" class="p" style="stroke-width:1.3"/><path d="M17.8,13.2V36.3M37.7,12.2V36.3" class="dg"/><path d="M40.6,3.0C44.5,8.0 48.6,17.0 49.9,24.7C48.6,32.5 44.5,41.0 40.9,45.5" class="dgc"/><path d="M0.9,0.0Q-0.3,24.5 0.9,49.0" class="dgt"/><path d="M57,1.3L54.7,3.2V8.2L60.4,16.5M60.4,32.0L54.7,40.1V45.3L57.5,47.4" class="k" style="stroke-width:0.95"/><path d="M60.4,16.5C62.4,21.0 62.4,27.5 60.4,32.0" class="dg"/><path d="M56.8,11.0C58.6,18.0 58.6,30.0 56.8,37.5" class="dgt"/><path d="M55,8.0L62,6.6L68.4,6.2M55,40.6L62,42.3L69.6,43.0" class="dgt"/><path d="M56.6,0.0L58.2,1.4L66,2.4L68.6,6.5C72.4,16.0 72.4,33.0 70,43.0L67,45.4L62,46.8L57.5,47.4" class="dg"/><path d="M58,-0.2L66.6,0.4L68.6,4.6L62.5,4.6Z" class="pf"/><path d="M67.8,41.0L71.6,40.6L72,45.2L68.2,45.4Z" class="pf"/><path d="M0.9,49H60" class="dg" style="stroke-width:2"/><path d="M17.8,62.2V85.3M37.7,61.2V85.3" class="dg"/><path d="M40.6,52.0C44.5,57.0 48.6,66.0 49.9,73.7C48.6,81.5 44.5,90.0 40.9,94.5" class="dgc"/><path d="M0.9,49.0Q-0.3,73.5 0.9,98.0" class="dgt"/><path d="M57,50.3L54.7,52.2V57.2L60.4,65.5M60.4,81.0L54.7,89.1V94.3L57.5,96.4" class="k" style="stroke-width:0.95"/><path d="M60.4,65.5C62.4,70.0 62.4,76.5 60.4,81.0" class="dg"/><path d="M56.8,60.0C58.6,67.0 58.6,79.0 56.8,86.5" class="dgt"/><path d="M55,57.0L62,55.6L68.4,55.2M55,89.6L62,91.3L69.6,92.0" class="dgt"/><path d="M56.6,49.0L58.2,50.4L66,51.4L68.6,55.5C72.4,65.0 72.4,82.0 70,92.0L67,94.4L62,95.8L57.5,96.4" class="dg"/><path d="M58,48.8L66.6,49.4L68.6,53.6L62.5,53.6Z" class="pf"/><path d="M67.8,90.0L71.6,89.6L72,94.2L68.2,94.4Z" class="pf"/><rect x="12.8" y="86.5" width="31.6" height="3.6" rx="1.8" class="sb"/><path d="M0.9,98V98.7H14.5M43,96.3H45L47,98.9H61.9V96" class="dg"/><path d="M14.5,98.9H20.6" class="r" style="stroke-width:1.6"/><rect x="20.6" y="96.7" width="22.5" height="4.2" rx="1.6" class="k" style="stroke-width:1.05;stroke:#0a1e0a"/><path d="M33.4,100.8H46L48.7,100.2" class="br"/></g>
<g transform="translate(1185.90,352.20) scale(1,-1)"><path d="M0.9,0H22L23.4,1.3H44.4L47,0H57" class="dg"/><path d="M23.4,1.0H46" class="dg" style="stroke-width:1.7"/><path d="M12.4,-1.1H18.2" class="p" style="stroke-width:1.3"/><path d="M17.8,13.2V36.3M37.7,12.2V36.3" class="dg"/><path d="M40.6,3.0C44.5,8.0 48.6,17.0 49.9,24.7C48.6,32.5 44.5,41.0 40.9,45.5" class="dgc"/><path d="M0.9,0.0Q-0.3,24.5 0.9,49.0" class="dgt"/><path d="M57,1.3L54.7,3.2V8.2L60.4,16.5M60.4,32.0L54.7,40.1V45.3L57.5,47.4" class="k" style="stroke-width:0.95"/><path d="M60.4,16.5C62.4,21.0 62.4,27.5 60.4,32.0" class="dg"/><path d="M56.8,11.0C58.6,18.0 58.6,30.0 56.8,37.5" class="dgt"/><path d="M55,8.0L62,6.6L68.4,6.2M55,40.6L62,42.3L69.6,43.0" class="dgt"/><path d="M56.6,0.0L58.2,1.4L66,2.4L68.6,6.5C72.4,16.0 72.4,33.0 70,43.0L67,45.4L62,46.8L57.5,47.4" class="dg"/><path d="M58,-0.2L66.6,0.4L68.6,4.6L62.5,4.6Z" class="pf"/><path d="M67.8,41.0L71.6,40.6L72,45.2L68.2,45.4Z" class="pf"/><path d="M0.9,49H60" class="dg" style="stroke-width:2"/><path d="M17.8,62.2V85.3M37.7,61.2V85.3" class="dg"/><path d="M40.6,52.0C44.5,57.0 48.6,66.0 49.9,73.7C48.6,81.5 44.5,90.0 40.9,94.5" class="dgc"/><path d="M0.9,49.0Q-0.3,73.5 0.9,98.0" class="dgt"/><path d="M57,50.3L54.7,52.2V57.2L60.4,65.5M60.4,81.0L54.7,89.1V94.3L57.5,96.4" class="k" style="stroke-width:0.95"/><path d="M60.4,65.5C62.4,70.0 62.4,76.5 60.4,81.0" class="dg"/><path d="M56.8,60.0C58.6,67.0 58.6,79.0 56.8,86.5" class="dgt"/><path d="M55,57.0L62,55.6L68.4,55.2M55,89.6L62,91.3L69.6,92.0" class="dgt"/><path d="M56.6,49.0L58.2,50.4L66,51.4L68.6,55.5C72.4,65.0 72.4,82.0 70,92.0L67,94.4L62,95.8L57.5,96.4" class="dg"/><path d="M58,48.8L66.6,49.4L68.6,53.6L62.5,53.6Z" class="pf"/><path d="M67.8,90.0L71.6,89.6L72,94.2L68.2,94.4Z" class="pf"/><rect x="12.8" y="86.5" width="31.6" height="3.6" rx="1.8" class="sb"/><path d="M0.9,98V98.7H14.5M43,96.3H45L47,98.9H61.9V96" class="dg"/><path d="M14.5,98.9H20.6" class="r" style="stroke-width:1.6"/><rect x="20.6" y="96.7" width="22.5" height="4.2" rx="1.6" class="k" style="stroke-width:1.05;stroke:#0a1e0a"/><path d="M33.4,100.8H46L48.7,100.2" class="br"/></g>
<g transform="translate(1273.05,352.20) scale(1,-1)"><path d="M0.9,0H22L23.4,1.3H44.4L47,0H57" class="dg"/><path d="M23.4,1.0H46" class="dg" style="stroke-width:1.7"/><path d="M12.4,-1.1H18.2" class="p" style="stroke-width:1.3"/><path d="M17.8,13.2V36.3M37.7,12.2V36.3" class="dg"/><path d="M40.6,3.0C44.5,8.0 48.6,17.0 49.9,24.7C48.6,32.5 44.5,41.0 40.9,45.5" class="dgc"/><path d="M0.9,0.0Q-0.3,24.5 0.9,49.0" class="dgt"/><path d="M57,1.3L54.7,3.2V8.2L60.4,16.5M60.4,32.0L54.7,40.1V45.3L57.5,47.4" class="k" style="stroke-width:0.95"/><path d="M60.4,16.5C62.4,21.0 62.4,27.5 60.4,32.0" class="dg"/><path d="M56.8,11.0C58.6,18.0 58.6,30.0 56.8,37.5" class="dgt"/><path d="M55,8.0L62,6.6L68.4,6.2M55,40.6L62,42.3L69.6,43.0" class="dgt"/><path d="M56.6,0.0L58.2,1.4L66,2.4L68.6,6.5C72.4,16.0 72.4,33.0 70,43.0L67,45.4L62,46.8L57.5,47.4" class="dg"/><path d="M58,-0.2L66.6,0.4L68.6,4.6L62.5,4.6Z" class="pf"/><path d="M67.8,41.0L71.6,40.6L72,45.2L68.2,45.4Z" class="pf"/><path d="M0.9,49H60" class="dg" style="stroke-width:2"/><path d="M17.8,62.2V85.3M37.7,61.2V85.3" class="dg"/><path d="M40.6,52.0C44.5,57.0 48.6,66.0 49.9,73.7C48.6,81.5 44.5,90.0 40.9,94.5" class="dgc"/><path d="M0.9,49.0Q-0.3,73.5 0.9,98.0" class="dgt"/><path d="M57,50.3L54.7,52.2V57.2L60.4,65.5M60.4,81.0L54.7,89.1V94.3L57.5,96.4" class="k" style="stroke-width:0.95"/><path d="M60.4,65.5C62.4,70.0 62.4,76.5 60.4,81.0" class="dg"/><path d="M56.8,60.0C58.6,67.0 58.6,79.0 56.8,86.5" class="dgt"/><path d="M55,57.0L62,55.6L68.4,55.2M55,89.6L62,91.3L69.6,92.0" class="dgt"/><path d="M56.6,49.0L58.2,50.4L66,51.4L68.6,55.5C72.4,65.0 72.4,82.0 70,92.0L67,94.4L62,95.8L57.5,96.4" class="dg"/><path d="M58,48.8L66.6,49.4L68.6,53.6L62.5,53.6Z" class="pf"/><path d="M67.8,90.0L71.6,89.6L72,94.2L68.2,94.4Z" class="pf"/><rect x="12.8" y="86.5" width="31.6" height="3.6" rx="1.8" class="sb"/><path d="M0.9,98V98.7H14.5M43,96.3H45L47,98.9H61.9V96" class="dg"/><path d="M14.5,98.9H20.6" class="r" style="stroke-width:1.6"/><rect x="20.6" y="96.7" width="22.5" height="4.2" rx="1.6" class="k" style="stroke-width:1.05;stroke:#0a1e0a"/><path d="M33.4,100.8H46L48.7,100.2" class="br"/></g>
<g transform="translate(1360.70,206.90) scale(1,-1)"><path d="M0.9,0H22L23.4,1.3H44.4L47,0H57" class="dg"/><path d="M23.4,1.0H46" class="dg" style="stroke-width:1.7"/><path d="M12.4,-1.1H18.2" class="p" style="stroke-width:1.3"/><path d="M17.8,13.2V36.3M37.7,12.2V36.3" class="dg"/><path d="M40.6,3.0C44.5,8.0 48.6,17.0 49.9,24.7C48.6,32.5 44.5,41.0 40.9,45.5" class="dgc"/><path d="M0.9,0.0Q-0.3,24.5 0.9,49.0" class="dgt"/><path d="M57,1.3L54.7,3.2V8.2L60.4,16.5M60.4,32.0L54.7,40.1V45.3L57.5,47.4" class="k" style="stroke-width:0.95"/><path d="M60.4,16.5C62.4,21.0 62.4,27.5 60.4,32.0" class="dg"/><path d="M56.8,11.0C58.6,18.0 58.6,30.0 56.8,37.5" class="dgt"/><path d="M55,8.0L62,6.6L68.4,6.2M55,40.6L62,42.3L69.6,43.0" class="dgt"/><path d="M56.6,0.0L58.2,1.4L66,2.4L68.6,6.5C72.4,16.0 72.4,33.0 70,43.0L67,45.4L62,46.8L57.5,47.4" class="dg"/><path d="M58,-0.2L66.6,0.4L68.6,4.6L62.5,4.6Z" class="pf"/><path d="M67.8,41.0L71.6,40.6L72,45.2L68.2,45.4Z" class="pf"/><path d="M0.9,49H60" class="dg" style="stroke-width:2"/><path d="M17.8,62.2V85.3M37.7,61.2V85.3" class="dg"/><path d="M40.6,52.0C44.5,57.0 48.6,66.0 49.9,73.7C48.6,81.5 44.5,90.0 40.9,94.5" class="dgc"/><path d="M0.9,49.0Q-0.3,73.5 0.9,98.0" class="dgt"/><path d="M57,50.3L54.7,52.2V57.2L60.4,65.5M60.4,81.0L54.7,89.1V94.3L57.5,96.4" class="k" style="stroke-width:0.95"/><path d="M60.4,65.5C62.4,70.0 62.4,76.5 60.4,81.0" class="dg"/><path d="M56.8,60.0C58.6,67.0 58.6,79.0 56.8,86.5" class="dgt"/><path d="M55,57.0L62,55.6L68.4,55.2M55,89.6L62,91.3L69.6,92.0" class="dgt"/><path d="M56.6,49.0L58.2,50.4L66,51.4L68.6,55.5C72.4,65.0 72.4,82.0 70,92.0L67,94.4L62,95.8L57.5,96.4" class="dg"/><path d="M58,48.8L66.6,49.4L68.6,53.6L62.5,53.6Z" class="pf"/><path d="M67.8,90.0L71.6,89.6L72,94.2L68.2,94.4Z" class="pf"/><path d="M0.9,98V98.7H14.5M43,96.3H45L47,98.9H61.9V96" class="dg"/><path d="M14.5,98.9H20.6" class="r" style="stroke-width:1.6"/><rect x="20.6" y="96.7" width="22.5" height="4.2" rx="1.6" class="k" style="stroke-width:1.05;stroke:#0a1e0a"/><path d="M33.4,100.8H46L48.7,100.2" class="br"/></g>
<g transform="translate(1360.7,256.3) scale(1,-1)"><path d="M0.9,0H22L23.4,1.3H44.4L47,0H57" class="dg"/><path d="M23.4,1.0H46" class="dg" style="stroke-width:1.7"/><path d="M12.4,-1.1H18.2" class="p" style="stroke-width:1.3"/><path d="M17.8,13.2V36.3M37.7,12.2V36.3" class="dg"/><path d="M40.6,3.0C44.5,8.0 48.6,17.0 49.9,24.7C48.6,32.5 44.5,41.0 40.9,45.5" class="dgc"/><path d="M0.9,0.0Q-0.3,24.5 0.9,49.0" class="dgt"/><path d="M57,1.3L54.7,3.2V8.2L60.4,16.5M60.4,32.0L54.7,40.1V45.3L57.5,47.4" class="k" style="stroke-width:0.95"/><path d="M60.4,16.5C62.4,21.0 62.4,27.5 60.4,32.0" class="dg"/><path d="M56.8,11.0C58.6,18.0 58.6,30.0 56.8,37.5" class="dgt"/><path d="M55,8.0L62,6.6L68.4,6.2M55,40.6L62,42.3L69.6,43.0" class="dgt"/><path d="M56.6,0.0L58.2,1.4L66,2.4L68.6,6.5C72.4,16.0 72.4,33.0 70,43.0L67,45.4L62,46.8L57.5,47.4" class="dg"/><path d="M58,-0.2L66.6,0.4L68.6,4.6L62.5,4.6Z" class="pf"/><path d="M67.8,41.0L71.6,40.6L72,45.2L68.2,45.4Z" class="pf"/></g>
<g transform="translate(1360.70,256.20)"><path d="M0.9,0H22L23.4,1.3H44.4L47,0H57" class="dg"/><path d="M23.4,1.0H46" class="dg" style="stroke-width:1.7"/><path d="M12.4,-1.1H18.2" class="p" style="stroke-width:1.3"/><path d="M17.8,13.2V36.3M37.7,12.2V36.3" class="dg"/><path d="M40.6,3.0C44.5,8.0 48.6,17.0 49.9,24.7C48.6,32.5 44.5,41.0 40.9,45.5" class="dgc"/><path d="M0.9,0.0Q-0.3,24.5 0.9,49.0" class="dgt"/><path d="M57,1.3L54.7,3.2V8.2L60.4,16.5M60.4,32.0L54.7,40.1V45.3L57.5,47.4" class="k" style="stroke-width:0.95"/><path d="M60.4,16.5C62.4,21.0 62.4,27.5 60.4,32.0" class="dg"/><path d="M56.8,11.0C58.6,18.0 58.6,30.0 56.8,37.5" class="dgt"/><path d="M55,8.0L62,6.6L68.4,6.2M55,40.6L62,42.3L69.6,43.0" class="dgt"/><path d="M56.6,0.0L58.2,1.4L66,2.4L68.6,6.5C72.4,16.0 72.4,33.0 70,43.0L67,45.4L62,46.8L57.5,47.4" class="dg"/><path d="M58,-0.2L66.6,0.4L68.6,4.6L62.5,4.6Z" class="pf"/><path d="M67.8,41.0L71.6,40.6L72,45.2L68.2,45.4Z" class="pf"/><path d="M0.9,49H60" class="dg" style="stroke-width:2"/><path d="M17.8,62.2V85.3M37.7,61.2V85.3" class="dg"/><path d="M40.6,52.0C44.5,57.0 48.6,66.0 49.9,73.7C48.6,81.5 44.5,90.0 40.9,94.5" class="dgc"/><path d="M0.9,49.0Q-0.3,73.5 0.9,98.0" class="dgt"/><path d="M57,50.3L54.7,52.2V57.2L60.4,65.5M60.4,81.0L54.7,89.1V94.3L57.5,96.4" class="k" style="stroke-width:0.95"/><path d="M60.4,65.5C62.4,70.0 62.4,76.5 60.4,81.0" class="dg"/><path d="M56.8,60.0C58.6,67.0 58.6,79.0 56.8,86.5" class="dgt"/><path d="M55,57.0L62,55.6L68.4,55.2M55,89.6L62,91.3L69.6,92.0" class="dgt"/><path d="M56.6,49.0L58.2,50.4L66,51.4L68.6,55.5C72.4,65.0 72.4,82.0 70,92.0L67,94.4L62,95.8L57.5,96.4" class="dg"/><path d="M58,48.8L66.6,49.4L68.6,53.6L62.5,53.6Z" class="pf"/><path d="M67.8,90.0L71.6,89.6L72,94.2L68.2,94.4Z" class="pf"/><path d="M0.9,98V98.7H14.5M43,96.3H45L47,98.9H61.9V96" class="dg"/><path d="M14.5,98.9H20.6" class="r" style="stroke-width:1.6"/><rect x="20.6" y="96.7" width="22.5" height="4.2" rx="1.6" class="k" style="stroke-width:1.05;stroke:#0a1e0a"/><path d="M33.4,100.8H46L48.7,100.2" class="br"/></g>
<line x1="685.80" y1="95.40" x2="685.80" y2="185.60" class="c" style="stroke-width:0.8"/>
<rect x="685.3" y="95.3" width="5.5" height="12.9" fill="#f00"/>
<rect x="685.3" y="174" width="5.5" height="11.6" fill="#f00"/>
<rect x="690.90" y="95.90" width="105.60" height="89.70" rx="0" class="k" style="stroke-width:1.7"/>
<line x1="794.60" y1="96.00" x2="794.60" y2="185.60" class="kt3" />
<path d="M732.5,96V185.6M735.8,96V185.6" class="b" />
<line x1="738.40" y1="101.00" x2="738.40" y2="160.00" class="b" style="stroke-width:0.7"/>
<line x1="732.50" y1="182.60" x2="792.80" y2="182.60" class="b" />
<path d="M738.4,160V106.7Q738.4,103.7 741.4,103.7H789Q792,103.7 792,106.7V147.4Q792,150.4 789,150.4H786V157" class="kt3" />
<line x1="761.00" y1="100.00" x2="795.00" y2="100.00" class="kt3" />
<line x1="736.00" y1="101.20" x2="758.40" y2="101.20" class="k" style="stroke-width:1.4"/>
<circle cx="746.10" cy="108.70" r="1.75" class="g" style="stroke-width:0.8"/>
<circle cx="746.10" cy="115.25" r="1.75" class="g" style="stroke-width:0.8"/>
<circle cx="746.10" cy="121.80" r="1.75" class="g" style="stroke-width:0.8"/>
<circle cx="746.10" cy="128.35" r="1.75" class="g" style="stroke-width:0.8"/>
<circle cx="746.10" cy="134.90" r="1.75" class="g" style="stroke-width:0.8"/>
<circle cx="746.10" cy="141.45" r="1.75" class="g" style="stroke-width:0.8"/>
<circle cx="746.10" cy="148.00" r="1.75" class="g" style="stroke-width:0.8"/>
<circle cx="752.63" cy="108.70" r="1.75" class="g" style="stroke-width:0.8"/>
<circle cx="752.63" cy="115.25" r="1.75" class="g" style="stroke-width:0.8"/>
<circle cx="752.63" cy="121.80" r="1.75" class="g" style="stroke-width:0.8"/>
<circle cx="752.63" cy="128.35" r="1.75" class="g" style="stroke-width:0.8"/>
<circle cx="752.63" cy="134.90" r="1.75" class="g" style="stroke-width:0.8"/>
<circle cx="752.63" cy="141.45" r="1.75" class="g" style="stroke-width:0.8"/>
<circle cx="752.63" cy="148.00" r="1.75" class="g" style="stroke-width:0.8"/>
<circle cx="759.16" cy="108.70" r="1.75" class="g" style="stroke-width:0.8"/>
<circle cx="759.16" cy="115.25" r="1.75" class="g" style="stroke-width:0.8"/>
<circle cx="759.16" cy="121.80" r="1.75" class="g" style="stroke-width:0.8"/>
<circle cx="759.16" cy="128.35" r="1.75" class="g" style="stroke-width:0.8"/>
<circle cx="759.16" cy="134.90" r="1.75" class="g" style="stroke-width:0.8"/>
<circle cx="759.16" cy="141.45" r="1.75" class="g" style="stroke-width:0.8"/>
<circle cx="759.16" cy="148.00" r="1.75" class="g" style="stroke-width:0.8"/>
<circle cx="765.69" cy="108.70" r="1.75" class="g" style="stroke-width:0.8"/>
<circle cx="765.69" cy="115.25" r="1.75" class="g" style="stroke-width:0.8"/>
<circle cx="765.69" cy="121.80" r="1.75" class="g" style="stroke-width:0.8"/>
<circle cx="765.69" cy="128.35" r="1.75" class="g" style="stroke-width:0.8"/>
<circle cx="765.69" cy="134.90" r="1.75" class="g" style="stroke-width:0.8"/>
<circle cx="765.69" cy="141.45" r="1.75" class="g" style="stroke-width:0.8"/>
<circle cx="765.69" cy="148.00" r="1.75" class="g" style="stroke-width:0.8"/>
<circle cx="772.22" cy="108.70" r="1.75" class="g" style="stroke-width:0.8"/>
<circle cx="772.22" cy="115.25" r="1.75" class="g" style="stroke-width:0.8"/>
<circle cx="772.22" cy="121.80" r="1.75" class="g" style="stroke-width:0.8"/>
<circle cx="772.22" cy="128.35" r="1.75" class="g" style="stroke-width:0.8"/>
<circle cx="772.22" cy="134.90" r="1.75" class="g" style="stroke-width:0.8"/>
<circle cx="772.22" cy="141.45" r="1.75" class="g" style="stroke-width:0.8"/>
<circle cx="772.22" cy="148.00" r="1.75" class="g" style="stroke-width:0.8"/>
<circle cx="778.75" cy="108.70" r="1.75" class="g" style="stroke-width:0.8"/>
<circle cx="778.75" cy="115.25" r="1.75" class="g" style="stroke-width:0.8"/>
<circle cx="778.75" cy="121.80" r="1.75" class="g" style="stroke-width:0.8"/>
<circle cx="778.75" cy="128.35" r="1.75" class="g" style="stroke-width:0.8"/>
<circle cx="778.75" cy="134.90" r="1.75" class="g" style="stroke-width:0.8"/>
<circle cx="778.75" cy="141.45" r="1.75" class="g" style="stroke-width:0.8"/>
<circle cx="778.75" cy="148.00" r="1.75" class="g" style="stroke-width:0.8"/>
<circle cx="785.28" cy="108.70" r="1.75" class="g" style="stroke-width:0.8"/>
<circle cx="785.28" cy="115.25" r="1.75" class="g" style="stroke-width:0.8"/>
<circle cx="785.28" cy="121.80" r="1.75" class="g" style="stroke-width:0.8"/>
<circle cx="785.28" cy="128.35" r="1.75" class="g" style="stroke-width:0.8"/>
<circle cx="785.28" cy="134.90" r="1.75" class="g" style="stroke-width:0.8"/>
<circle cx="785.28" cy="141.45" r="1.75" class="g" style="stroke-width:0.8"/>
<circle cx="785.28" cy="148.00" r="1.75" class="g" style="stroke-width:0.8"/>
<path d="M786,110.4H812M786,113.4H812" class="g" />
<path d="M789,113.8H795.5M792,110.8V117" class="m" style="stroke-width:1.6"/>
<path d="M779,154.3H794M786.8,150V159M783.5,151L790,157.5M790,151L783.5,157.5" class="m" style="stroke-width:0.8"/>
<circle cx="795.40" cy="91.40" r="2.50" class="kt3" />
<path d="M793.7,89.7L797.1,93.1M797.1,89.7L793.7,93.1" class="kt3" />
<circle cx="727.6" cy="126.1" r="16.6" class="r" stroke-dasharray="5 1.5 1.5 1.5"/>
<path d="M691,109.1H708Q711,109.3 713,108.6Q728,106 741,114Q750.5,122 749.6,129Q748.5,139 738,144.5Q727,149.5 712,148" class="kt3" />
<path d="M709,112Q703,113 703,117V135Q703,139 709,141M705,118.5H702.5V122H705M705,134H702.5V137.5H705" class="kt3" />
<path d="M709,141Q716,147 724.8,148.7" class="kt3" />
<line x1="691.00" y1="150.00" x2="721.30" y2="150.00" class="k" style="stroke-width:1.4"/>
<line x1="721.30" y1="104.00" x2="721.30" y2="122.50" class="r" />
<rect x="715.70" y="123.30" width="11.70" height="23.70" rx="0" class="g" style="stroke-width:1.4"/>
<path d="M715.7,129.3H727.4M715.7,135.8H727.4M715.7,142.2H727.4M721.8,123.3V147" class="g" />
<line x1="721.80" y1="147.00" x2="721.80" y2="164.00" class="g" style="stroke-width:2.6"/>
<path d="M691,164H728.2" class="kt3" />
<path d="M728.2,164L748,160.6" class="r" stroke-dasharray="4 1.5"/>
<rect x="704.50" y="169.60" width="16.80" height="12.80" rx="0" class="kt3" />
<path d="M695.5,176.5H699.9M697.7,174.3V178.7" class="r" />
<ellipse cx="767.9" cy="171.8" rx="20" ry="11.6" class="g" style="stroke-width:0.8"/>
<path d="M752.2,171.8L757,165L765,163H772Q783.6,164 783.6,171.8Q783.6,179.6 772,180.6H765L757,178.6Z" class="kt3" />
<circle cx="767.90" cy="174.40" r="3.40" class="kt3" />
<line x1="762.00" y1="174.40" x2="773.00" y2="174.40" class="g" />
<line x1="773.90" y1="172.70" x2="786.80" y2="179.10" class="r" style="stroke-width:2.2" stroke-dasharray="2 0.7"/>
<circle cx="786.80" cy="179.10" r="2.20" class="r" />
<path d="M729,163.2Q732,158.9 736,158.9Q742,162.5 748,160.6Q756,157.2 764.4,157.2Q775,157.5 783,161Q789,163.5 792.8,164.5" class="kt3" />
<path d="M736,161.5Q742,165 750,162.5Q758,159.5 766,159.7Q777,160 792.8,167" class="gy" />
<path d="M738,163.5Q744,166.5 752,164Q760,161 768,161.2Q779,161.5 792.8,169" class="b" style="stroke-width:0.8" stroke-dasharray="4 2"/>
<path d="M734.3,96.5V99.5Q734.5,102.3 737.5,102.3H756.5Q759.6,102.3 759.7,99.5V96.5" class="y" style="stroke-width:1.4"/>
<rect x="866.10" y="71.70" width="80.60" height="4.90" rx="0" class="k" />
<rect x="869.80" y="72.80" width="4.50" height="4.40" rx="0" class="c" style="stroke-width:1"/>
<rect x="938.70" y="72.80" width="4.50" height="4.40" rx="0" class="c" style="stroke-width:1"/>
<path d="M866.1,72.5L867.5,75M946.7,72.5L945.3,75" class="r" style="stroke-width:1.6"/>
<rect x="875.10" y="78.60" width="29.90" height="5.30" rx="0" class="k" />
<path d="M883,80.6H904.3" class="r" stroke-dasharray="5 2"/>
<circle cx="904.00" cy="81.30" r="1.60" class="r" fill="#f00"/>
<rect x="792.30" y="88.30" width="92.70" height="6.40" rx="0" class="k" fill="#fff"/>
<circle cx="795.60" cy="91.50" r="2.50" class="kt3" />
<path d="M793.9,89.8L797.3000000000001,93.2M797.3000000000001,89.8L793.9,93.2" class="kt3" />
<circle cx="882.40" cy="91.50" r="2.50" class="kt3" />
<path d="M880.6999999999999,89.8L884.1,93.2M884.1,89.8L880.6999999999999,93.2" class="kt3" />
<rect x="799.00" y="89.50" width="3.60" height="3.60" rx="0" class="c" />
<rect x="872.00" y="89.50" width="3.60" height="3.60" rx="0" class="c" />
<rect x="879.80" y="94.70" width="17.90" height="6.40" rx="0" class="k" />
<path d="M865.8,80.5H877.8L869.8,87.8Z" class="r" />
<path d="M806.2,99.8L838.5,111.8" class="k" style="stroke-width:1.8"/>
<path d="M806.2,99.8L838.5,111.8" class="r" stroke-dasharray="3 2" style="stroke-width:0.8"/>
<circle cx="806.40" cy="99.90" r="1.40" class="y" />
<path d="M834.5,96.5L843.5,114M838.5,95.5L848.5,113.5" class="k" />
<path d="M836.5,96L846,113.8" class="r" stroke-dasharray="3 1.5" style="stroke-width:0.8"/>
<rect x="835.00" y="94.60" width="5.00" height="4.60" rx="0" class="r" />
<rect x="835.5" y="93.6" width="4" height="1.6" fill="#ff0"/>
<path d="M876,80.5L847.3,115.7" class="k" style="stroke-width:1.8"/>
<path d="M876,80.5L847.3,115.7" class="r" stroke-dasharray="4 2" style="stroke-width:0.9"/>
<path d="M868.5,92Q872,99 873.5,105L859,120.5Q856,123 853,122M871.5,91Q875,98 877,105.5L862,122Q858,125 853.5,124" class="k" />
<path d="M870,92Q873.5,99 875.2,105.2L860.5,121.5" class="r" stroke-dasharray="3 1.5" style="stroke-width:0.8"/>
<path d="M869,103L876.5,109.5L873.5,113L866,106.5Z" class="r" fill="#f00" fill-opacity="0.6"/>
<path d="M868.5,84L872.5,92M866,85L869,92.5" class="k" style="stroke-width:1.5"/>
<path d="M861,107H865M863,105.5V112M861,112H865" class="c" />
<rect x="835.50" y="115.50" width="22.00" height="3.80" rx="0" class="k" />
<path d="M838,117.4H856M846,119.5L848,122.5L851,121" class="r" />
<path d="M853,124L855,127.5L857,125" class="r" />
<path d="M797,110.3H839M797,113H839" class="g" />
<circle cx="838.50" cy="110.80" r="1.20" class="y" />
<path d="M837,119.5V127Q836.5,132 829,143Q818,156 798,161" class="kt3" />
<path d="M880.3,102.5H889V164H880.3Z" class="sbf" />
<rect x="882.8" y="104" width="5.4" height="29" fill="#fff"/><rect x="884" y="133" width="3.6" height="31" fill="#fff"/>
<path d="M880.3,164V188L884,193L889,188.5V176H881M889,164V176M884.5,168H888V175H884.5Z" class="sb2" />
<path d="M884,171.5L887.5,170" class="r" style="stroke-width:1.3"/>
<path d="M880.3,102.5Q882,101.5 897.5,102.2" class="sb2" />
<path d="M882,106V114M885,108L887.5,118M887.5,108L885,118" class="sb2" />
<rect x="188.20" y="133.40" width="38.40" height="46.60" rx="3" class="kt3" />
<rect x="226.60" y="131.30" width="10.20" height="50.70" rx="0" class="kt3" />
<rect x="240.60" y="109.10" width="31.50" height="76.00" rx="2.5" class="k" style="stroke-width:1.8"/>
<rect x="246.60" y="110.60" width="24.50" height="73.00" rx="1.5" class="k" />
<line x1="243.80" y1="110.00" x2="243.80" y2="184.50" class="k" />
<circle cx="261.90" cy="122.60" r="4.50" class="kt3" />
<circle cx="261.90" cy="171.00" r="4.50" class="kt3" />
<path d="M271,141Q266,141 266,146.4Q266,151.8 271,151.8" class="k" />
<ellipse cx="180.7" cy="297.5" rx="22.3" ry="27" class="kt3"/>
<ellipse cx="180.7" cy="297.5" rx="19.4" ry="23.8" class="kt3"/>
<rect x="179.80" y="282.00" width="11.70" height="30.80" rx="2" class="k" />
<line x1="191.60" y1="283.00" x2="191.60" y2="312.00" class="k" style="stroke-width:1.6"/>
<path d="M180.6,282.6L174,275.5M190.5,282.4L193,274.5M180.6,312.2L174,319.5M190.5,312.6L193,320.5M179.8,289L170,296.4M179.8,306L170,298.6M179.8,297.5H158.6" class="kt3" />
<path d="M184,272.5Q190,270.5 196,275M184,322.5Q190,324.5 196,320" class="kt3" />
<path d="M161.5,290.5H169.5M161.5,302.5H169.5M163.6,287.6V305M167.2,287.6V305M163.6,294H167.2M163.6,300H167.2" class="k" />
<line x1="138.00" y1="297.50" x2="241.20" y2="297.50" class="r" />
<line x1="181.30" y1="266.00" x2="181.30" y2="339.50" class="r" />
<rect x="189.50" y="292.20" width="4.30" height="5.30" rx="0" class="y" />
<path d="M233.2,271.4H201Q198.5,271.4 198.5,274V319.8Q198.5,322.4 201,322.4H233.2" class="k" style="stroke-width:1.3"/>
<path d="M233.2,271.4H238.9L243,275.8M233.2,322.4H238.9L243,318" class="k" />
<line x1="205.50" y1="271.40" x2="205.50" y2="322.40" class="k" />
<line x1="233.20" y1="271.40" x2="233.20" y2="322.40" class="k" />
<path d="M198.5,282.4H264.9M198.5,310.9H264.9" class="k" style="stroke-width:1.5"/>
<line x1="210.80" y1="282.40" x2="210.80" y2="310.90" class="k" />
<line x1="238.90" y1="275.00" x2="238.90" y2="319.00" class="k" style="stroke-width:1.5"/>
<line x1="249.40" y1="282.40" x2="249.40" y2="310.90" class="k" />
<line x1="264.90" y1="277.00" x2="264.90" y2="317.00" class="k" />
<rect x="196.5" y="285.3" width="38.3" height="24.3" class="r" stroke-dasharray="6 2.5"/>
<rect x="198.8" y="297.8" width="3.4" height="9" fill="#000"/>
<path d="M202.5,283Q206.5,297 202.5,310.5" class="kt3" />
<path d="M244.6,270.1L246.2,269.3L254.3,271.8L266.5,275.8L272.2,279.1Q273.2,280.0 273.2,281.5V297.0M244.6,323.9L246.2,324.7L254.3,322.2L266.5,318.2L272.2,314.9Q273.2,314.0 273.2,312.5V297.0" class="k" style="stroke-width:1.4"/>
<line x1="266.70" y1="276.70" x2="266.70" y2="317.30" class="k" />
<path d="M243,275.8L249.4,282.4M245.4,273.2L249.8,280.2M251.1,272.1L256.8,279.1M255.1,273.4L260,279.9M261.7,275.0L256.8,279.1M244.6,270.1L243,275.8M260,279.9L264.9,282.4" class="k" />
<path d="M218.5,269.8H223.4" class="k" style="stroke-width:1.6"/>
<path d="M270.2,287.3H272.6" class="k" style="stroke-width:2"/>
<path d="M243,318.2L249.4,311.6M245.4,320.8L249.8,313.8M251.1,321.9L256.8,314.9M255.1,320.6L260,314.1M261.7,319.0L256.8,314.9M244.6,323.9L243,318.2M260,314.1L264.9,311.6" class="k" />
<path d="M218.5,324.2H223.4" class="k" style="stroke-width:1.6"/>
<path d="M270.2,306.7H272.6" class="k" style="stroke-width:2"/>
<line x1="273.80" y1="308.60" x2="291.00" y2="308.60" class="r" />
<path d="M281,349.9V268Q281,264.8 282.6,264.8Q284.3,264.8 284.3,268C288.5,290 288.5,325 285.7,344.3" class="r" />
<rect x="286.60" y="273.10" width="5.60" height="8.40" rx="2" class="r" />
<circle cx="289.40" cy="277.30" r="1.50" class="r" />
<rect x="286.60" y="333.70" width="5.60" height="8.40" rx="2" class="r" />
<circle cx="289.40" cy="337.90" r="1.50" class="r" />
<line x1="276.00" y1="308.00" x2="290.70" y2="308.00" class="r" />
<path d="M281,345L285.7,344.3L290,356.6H300.2" class="r" />
<path d="M283,349L289.5,358.5H294" class="r" />
<rect x="294" y="356" width="6.2" height="3" fill="#f00"/>
<rect x="278.2" y="349.9" width="2.8" height="2.9" fill="#f00"/>
<line x1="277.40" y1="358.30" x2="283.00" y2="358.30" class="k" />
<line x1="19.60" y1="226.30" x2="65.30" y2="226.30" class="k" />
<path d="M189,226.3H1479.9" class="k" stroke-dasharray="26 3.5 6.3 3.46" stroke-dashoffset="31.26"/>
<path d="M381.6,37.1V414.4" class="k" stroke-dasharray="26 3.5 6.3 3.46"/>
<polygon points="381.60,15.60 389.24,18.76 392.40,26.40 389.24,34.04 381.60,37.20 373.96,34.04 370.80,26.40 373.96,18.76" class="kt2"/>
<line x1="371.00" y1="26.40" x2="392.20" y2="26.40" class="k" />
<path d="M1084.2,37.1V414.4" class="k" stroke-dasharray="26 3.5 6.3 3.46"/>
<polygon points="1084.20,15.60 1091.84,18.76 1095.00,26.40 1091.84,34.04 1084.20,37.20 1076.56,34.04 1073.40,26.40 1076.56,18.76" class="kt2"/>
<line x1="1073.60" y1="26.40" x2="1094.80" y2="26.40" class="k" />
<polygon points="30.20,215.50 37.84,218.66 41.00,226.30 37.84,233.94 30.20,237.10 22.56,233.94 19.40,226.30 22.56,218.66" class="kt2"/>
<text x="381" y="25.3" font-size="7.5" text-anchor="middle" class="tk">x</text>
<text x="381.2" y="33.4" font-size="6.6" text-anchor="middle" class="tk">0</text>
<text x="1083.8" y="25.3" font-size="7.5" text-anchor="middle" class="tk">x</text>
<text x="1084.1" y="33.4" font-size="6.6" text-anchor="middle" textLength="17.4" lengthAdjust="spacingAndGlyphs" class="tk">6450</text>
<text x="30.3" y="224.5" font-size="7.4" text-anchor="middle" class="tk">Y</text>
<text x="30.3" y="233.6" font-size="6.6" text-anchor="middle" class="tk">0</text>
<line x1="144.30" y1="71.40" x2="237.40" y2="71.40" class="g" />
<path d="M144.30,71.40L155.50,69.30V73.50Z" class="gf"/>
<path d="M237.40,71.40L226.20,69.30V73.50Z" class="gf"/>
<line x1="144.30" y1="66.10" x2="144.30" y2="83.70" class="g" />
<line x1="237.40" y1="66.10" x2="237.40" y2="83.70" class="g" />
<text y="64.20" font-size="19.83" text-anchor="middle" class="ty"><tspan x="179.95" textLength="8.60" lengthAdjust="spacingAndGlyphs">8</tspan><tspan x="190.80" textLength="8.60" lengthAdjust="spacingAndGlyphs">5</tspan><tspan x="201.65" textLength="4.63" lengthAdjust="spacingAndGlyphs" class="t0">0</tspan></text>
<line x1="250.90" y1="71.40" x2="652.05" y2="71.40" class="g" />
<line x1="272.50" y1="66.90" x2="272.50" y2="106.00" class="g" />
<path d="M272.50,71.40L261.30,69.30V73.50Z" class="gf"/>
<text y="64.40" font-size="19.83" text-anchor="middle" class="ty"><tspan x="277.15" textLength="8.60" lengthAdjust="spacingAndGlyphs">2</tspan><tspan x="288.00" textLength="8.60" lengthAdjust="spacingAndGlyphs">8</tspan><tspan x="298.85" textLength="8.60" lengthAdjust="spacingAndGlyphs">2</tspan></text>
<line x1="303.45" y1="66.90" x2="303.45" y2="125.40" class="g" />
<path d="M303.45,71.40L314.65,69.30V73.50Z" class="gf"/>
<text y="64.20" font-size="19.83" text-anchor="middle" class="ty"><tspan x="337.67" textLength="8.60" lengthAdjust="spacingAndGlyphs">8</tspan><tspan x="348.52" textLength="4.63" lengthAdjust="spacingAndGlyphs" class="t0">0</tspan><tspan x="359.37" textLength="4.63" lengthAdjust="spacingAndGlyphs" class="t0">0</tspan></text>
<line x1="390.60" y1="66.90" x2="390.60" y2="125.40" class="g" />
<path d="M390.60,71.40L401.80,69.30V73.50Z" class="gf"/>
<text y="64.20" font-size="19.83" text-anchor="middle" class="ty"><tspan x="424.82" textLength="8.60" lengthAdjust="spacingAndGlyphs">8</tspan><tspan x="435.68" textLength="4.63" lengthAdjust="spacingAndGlyphs" class="t0">0</tspan><tspan x="446.52" textLength="4.63" lengthAdjust="spacingAndGlyphs" class="t0">0</tspan></text>
<path d="M390.60,71.40L379.40,69.30V73.50Z" class="gf"/>
<line x1="477.75" y1="66.90" x2="477.75" y2="125.40" class="g" />
<path d="M477.75,71.40L488.95,69.30V73.50Z" class="gf"/>
<text y="64.20" font-size="19.83" text-anchor="middle" class="ty"><tspan x="511.98" textLength="8.60" lengthAdjust="spacingAndGlyphs">8</tspan><tspan x="522.83" textLength="4.63" lengthAdjust="spacingAndGlyphs" class="t0">0</tspan><tspan x="533.68" textLength="4.63" lengthAdjust="spacingAndGlyphs" class="t0">0</tspan></text>
<path d="M477.75,71.40L466.55,69.30V73.50Z" class="gf"/>
<line x1="564.90" y1="66.90" x2="564.90" y2="125.40" class="g" />
<path d="M564.90,71.40L576.10,69.30V73.50Z" class="gf"/>
<text y="64.20" font-size="19.83" text-anchor="middle" class="ty"><tspan x="599.13" textLength="8.60" lengthAdjust="spacingAndGlyphs">8</tspan><tspan x="609.98" textLength="4.63" lengthAdjust="spacingAndGlyphs" class="t0">0</tspan><tspan x="620.83" textLength="4.63" lengthAdjust="spacingAndGlyphs" class="t0">0</tspan></text>
<path d="M564.90,71.40L553.70,69.30V73.50Z" class="gf"/>
<line x1="652.05" y1="66.90" x2="652.05" y2="125.40" class="g" />
<path d="M652.05,71.40L640.85,69.30V73.50Z" class="gf"/>
<line x1="863.20" y1="69.40" x2="1093.80" y2="69.40" class="g" />
<line x1="1093.80" y1="70.50" x2="1360.50" y2="70.50" class="g" />
<line x1="885.50" y1="65.30" x2="885.50" y2="97.10" class="g" />
<path d="M885.50,69.40L874.30,67.30V71.50Z" class="gf"/>
<text y="62.30" font-size="19.83" text-anchor="middle" class="ty"><tspan x="893.70" textLength="8.60" lengthAdjust="spacingAndGlyphs">3</tspan><tspan x="904.30" textLength="5.51" lengthAdjust="spacingAndGlyphs">1</tspan><tspan x="911.40" textLength="4.63" lengthAdjust="spacingAndGlyphs" class="t0">0</tspan></text>
<line x1="919.50" y1="64.50" x2="919.50" y2="125.40" class="g" />
<path d="M919.50,69.40L930.70,67.30V71.50Z" class="gf"/>
<text y="62.30" font-size="19.83" text-anchor="middle" class="ty"><tspan x="952.23" textLength="8.60" lengthAdjust="spacingAndGlyphs">8</tspan><tspan x="963.08" textLength="4.63" lengthAdjust="spacingAndGlyphs" class="t0">0</tspan><tspan x="973.93" textLength="4.63" lengthAdjust="spacingAndGlyphs" class="t0">0</tspan></text>
<line x1="1006.65" y1="64.50" x2="1006.65" y2="125.40" class="g" />
<path d="M1006.65,69.40L1017.85,67.30V71.50Z" class="gf"/>
<text y="62.30" font-size="19.83" text-anchor="middle" class="ty"><tspan x="1039.38" textLength="8.60" lengthAdjust="spacingAndGlyphs">8</tspan><tspan x="1050.22" textLength="4.63" lengthAdjust="spacingAndGlyphs" class="t0">0</tspan><tspan x="1061.08" textLength="4.63" lengthAdjust="spacingAndGlyphs" class="t0">0</tspan></text>
<path d="M1006.65,69.40L995.45,67.30V71.50Z" class="gf"/>
<line x1="1093.80" y1="64.50" x2="1093.80" y2="125.40" class="g" />
<path d="M1093.80,70.50L1105.00,68.40V72.60Z" class="gf"/>
<text y="62.80" font-size="19.83" text-anchor="middle" class="ty"><tspan x="1126.53" textLength="8.60" lengthAdjust="spacingAndGlyphs">8</tspan><tspan x="1137.38" textLength="4.63" lengthAdjust="spacingAndGlyphs" class="t0">0</tspan><tspan x="1148.23" textLength="4.63" lengthAdjust="spacingAndGlyphs" class="t0">0</tspan></text>
<path d="M1093.80,69.40L1082.60,67.30V71.50Z" class="gf"/>
<line x1="1180.95" y1="64.50" x2="1180.95" y2="125.40" class="g" />
<path d="M1180.95,70.50L1192.15,68.40V72.60Z" class="gf"/>
<text y="62.80" font-size="19.83" text-anchor="middle" class="ty"><tspan x="1213.68" textLength="8.60" lengthAdjust="spacingAndGlyphs">8</tspan><tspan x="1224.53" textLength="4.63" lengthAdjust="spacingAndGlyphs" class="t0">0</tspan><tspan x="1235.38" textLength="4.63" lengthAdjust="spacingAndGlyphs" class="t0">0</tspan></text>
<path d="M1180.95,70.50L1169.75,68.40V72.60Z" class="gf"/>
<line x1="1268.10" y1="64.50" x2="1268.10" y2="125.40" class="g" />
<path d="M1268.10,70.50L1279.30,68.40V72.60Z" class="gf"/>
<text y="62.80" font-size="19.83" text-anchor="middle" class="ty"><tspan x="1303.45" textLength="8.60" lengthAdjust="spacingAndGlyphs">8</tspan><tspan x="1314.30" textLength="8.60" lengthAdjust="spacingAndGlyphs">5</tspan><tspan x="1325.15" textLength="4.63" lengthAdjust="spacingAndGlyphs" class="t0">0</tspan></text>
<path d="M1268.10,70.50L1256.90,68.40V72.60Z" class="gf"/>
<line x1="1360.50" y1="64.50" x2="1360.50" y2="108.20" class="g" />
<path d="M1360.50,70.50L1349.30,68.40V72.60Z" class="gf"/>
<line x1="259.70" y1="395.20" x2="1360.20" y2="395.20" class="g" />
<line x1="281.25" y1="336.00" x2="281.25" y2="399.90" class="g" />
<path d="M281.25,395.20L270.05,393.10V397.30Z" class="gf"/>
<text y="387.90" font-size="19.83" text-anchor="middle" class="ty"><tspan x="286.95" textLength="8.60" lengthAdjust="spacingAndGlyphs">3</tspan><tspan x="297.80" textLength="4.63" lengthAdjust="spacingAndGlyphs" class="t0">0</tspan><tspan x="308.65" textLength="4.63" lengthAdjust="spacingAndGlyphs" class="t0">0</tspan></text>
<line x1="314.40" y1="327.30" x2="314.40" y2="399.90" class="g" />
<path d="M314.40,395.20L325.60,393.10V397.30Z" class="gf"/>
<text y="387.90" font-size="19.83" text-anchor="middle" class="ty"><tspan x="347.92" textLength="8.60" lengthAdjust="spacingAndGlyphs">8</tspan><tspan x="358.77" textLength="4.63" lengthAdjust="spacingAndGlyphs" class="t0">0</tspan><tspan x="369.62" textLength="4.63" lengthAdjust="spacingAndGlyphs" class="t0">0</tspan></text>
<line x1="401.55" y1="327.30" x2="401.55" y2="399.90" class="g" />
<path d="M401.55,395.20L412.75,393.10V397.30Z" class="gf"/>
<text y="387.90" font-size="19.83" text-anchor="middle" class="ty"><tspan x="435.07" textLength="8.60" lengthAdjust="spacingAndGlyphs">8</tspan><tspan x="445.92" textLength="4.63" lengthAdjust="spacingAndGlyphs" class="t0">0</tspan><tspan x="456.77" textLength="4.63" lengthAdjust="spacingAndGlyphs" class="t0">0</tspan></text>
<path d="M401.55,395.20L390.35,393.10V397.30Z" class="gf"/>
<line x1="488.70" y1="327.30" x2="488.70" y2="399.90" class="g" />
<path d="M488.70,395.20L499.90,393.10V397.30Z" class="gf"/>
<text y="387.90" font-size="19.83" text-anchor="middle" class="ty"><tspan x="522.22" textLength="8.60" lengthAdjust="spacingAndGlyphs">8</tspan><tspan x="533.07" textLength="4.63" lengthAdjust="spacingAndGlyphs" class="t0">0</tspan><tspan x="543.92" textLength="4.63" lengthAdjust="spacingAndGlyphs" class="t0">0</tspan></text>
<path d="M488.70,395.20L477.50,393.10V397.30Z" class="gf"/>
<line x1="575.85" y1="327.30" x2="575.85" y2="399.90" class="g" />
<path d="M575.85,395.20L587.05,393.10V397.30Z" class="gf"/>
<text y="387.90" font-size="19.83" text-anchor="middle" class="ty"><tspan x="609.38" textLength="8.60" lengthAdjust="spacingAndGlyphs">8</tspan><tspan x="620.23" textLength="4.63" lengthAdjust="spacingAndGlyphs" class="t0">0</tspan><tspan x="631.08" textLength="4.63" lengthAdjust="spacingAndGlyphs" class="t0">0</tspan></text>
<path d="M575.85,395.20L564.65,393.10V397.30Z" class="gf"/>
<line x1="663.00" y1="327.30" x2="663.00" y2="399.90" class="g" />
<path d="M663.00,395.20L674.20,393.10V397.30Z" class="gf"/>
<text y="387.90" font-size="19.83" text-anchor="middle" class="ty"><tspan x="696.52" textLength="8.60" lengthAdjust="spacingAndGlyphs">8</tspan><tspan x="707.38" textLength="4.63" lengthAdjust="spacingAndGlyphs" class="t0">0</tspan><tspan x="718.23" textLength="4.63" lengthAdjust="spacingAndGlyphs" class="t0">0</tspan></text>
<path d="M663.00,395.20L651.80,393.10V397.30Z" class="gf"/>
<line x1="750.15" y1="327.30" x2="750.15" y2="399.90" class="g" />
<path d="M750.15,395.20L761.35,393.10V397.30Z" class="gf"/>
<text y="387.90" font-size="19.83" text-anchor="middle" class="ty"><tspan x="783.67" textLength="8.60" lengthAdjust="spacingAndGlyphs">8</tspan><tspan x="794.52" textLength="4.63" lengthAdjust="spacingAndGlyphs" class="t0">0</tspan><tspan x="805.38" textLength="4.63" lengthAdjust="spacingAndGlyphs" class="t0">0</tspan></text>
<path d="M750.15,395.20L738.95,393.10V397.30Z" class="gf"/>
<line x1="837.30" y1="327.30" x2="837.30" y2="399.90" class="g" />
<path d="M837.30,395.20L848.50,393.10V397.30Z" class="gf"/>
<text y="387.90" font-size="19.83" text-anchor="middle" class="ty"><tspan x="870.83" textLength="8.60" lengthAdjust="spacingAndGlyphs">8</tspan><tspan x="881.68" textLength="4.63" lengthAdjust="spacingAndGlyphs" class="t0">0</tspan><tspan x="892.53" textLength="4.63" lengthAdjust="spacingAndGlyphs" class="t0">0</tspan></text>
<path d="M837.30,395.20L826.10,393.10V397.30Z" class="gf"/>
<line x1="924.45" y1="327.30" x2="924.45" y2="399.90" class="g" />
<path d="M924.45,395.20L935.65,393.10V397.30Z" class="gf"/>
<text y="387.90" font-size="19.83" text-anchor="middle" class="ty"><tspan x="957.98" textLength="8.60" lengthAdjust="spacingAndGlyphs">8</tspan><tspan x="968.83" textLength="4.63" lengthAdjust="spacingAndGlyphs" class="t0">0</tspan><tspan x="979.68" textLength="4.63" lengthAdjust="spacingAndGlyphs" class="t0">0</tspan></text>
<path d="M924.45,395.20L913.25,393.10V397.30Z" class="gf"/>
<line x1="1011.60" y1="327.30" x2="1011.60" y2="399.90" class="g" />
<path d="M1011.60,395.20L1022.80,393.10V397.30Z" class="gf"/>
<text y="387.90" font-size="19.83" text-anchor="middle" class="ty"><tspan x="1045.12" textLength="8.60" lengthAdjust="spacingAndGlyphs">8</tspan><tspan x="1055.97" textLength="4.63" lengthAdjust="spacingAndGlyphs" class="t0">0</tspan><tspan x="1066.83" textLength="4.63" lengthAdjust="spacingAndGlyphs" class="t0">0</tspan></text>
<path d="M1011.60,395.20L1000.40,393.10V397.30Z" class="gf"/>
<line x1="1098.75" y1="327.30" x2="1098.75" y2="399.90" class="g" />
<path d="M1098.75,395.20L1109.95,393.10V397.30Z" class="gf"/>
<text y="387.90" font-size="19.83" text-anchor="middle" class="ty"><tspan x="1132.28" textLength="8.60" lengthAdjust="spacingAndGlyphs">8</tspan><tspan x="1143.12" textLength="4.63" lengthAdjust="spacingAndGlyphs" class="t0">0</tspan><tspan x="1153.98" textLength="4.63" lengthAdjust="spacingAndGlyphs" class="t0">0</tspan></text>
<path d="M1098.75,395.20L1087.55,393.10V397.30Z" class="gf"/>
<line x1="1185.90" y1="327.30" x2="1185.90" y2="399.90" class="g" />
<path d="M1185.90,395.20L1197.10,393.10V397.30Z" class="gf"/>
<text y="387.90" font-size="19.83" text-anchor="middle" class="ty"><tspan x="1219.43" textLength="8.60" lengthAdjust="spacingAndGlyphs">8</tspan><tspan x="1230.28" textLength="4.63" lengthAdjust="spacingAndGlyphs" class="t0">0</tspan><tspan x="1241.13" textLength="4.63" lengthAdjust="spacingAndGlyphs" class="t0">0</tspan></text>
<path d="M1185.90,395.20L1174.70,393.10V397.30Z" class="gf"/>
<line x1="1273.05" y1="327.30" x2="1273.05" y2="399.90" class="g" />
<path d="M1273.05,395.20L1284.25,393.10V397.30Z" class="gf"/>
<text y="387.90" font-size="19.83" text-anchor="middle" class="ty"><tspan x="1306.58" textLength="8.60" lengthAdjust="spacingAndGlyphs">8</tspan><tspan x="1317.43" textLength="4.63" lengthAdjust="spacingAndGlyphs" class="t0">0</tspan><tspan x="1328.28" textLength="4.63" lengthAdjust="spacingAndGlyphs" class="t0">0</tspan></text>
<path d="M1273.05,395.20L1261.85,393.10V397.30Z" class="gf"/>
<line x1="1360.20" y1="330.20" x2="1360.20" y2="399.90" class="g" />
<path d="M1360.20,395.20L1349.00,393.10V397.30Z" class="gf"/>
<line x1="65.40" y1="156.30" x2="65.40" y2="297.30" class="g" />
<line x1="62.60" y1="156.30" x2="187.00" y2="156.30" class="g" />
<line x1="62.60" y1="226.30" x2="189.00" y2="226.30" class="g" />
<line x1="62.60" y1="297.30" x2="115.00" y2="297.30" class="g" />
<path d="M65.4,156.3L64.30000000000001,161.9H66.5Z" class="gf"/>
<path d="M65.4,226.3L64.30000000000001,220.70000000000002H66.5Z" class="gf"/>
<path d="M65.4,226.3L64.30000000000001,231.9H66.5Z" class="gf"/>
<path d="M65.4,297.3L64.30000000000001,291.7H66.5Z" class="gf"/>
<g transform="translate(62.2,191.3) rotate(-90)">
<text y="0.00" font-size="10.61" text-anchor="middle" class="tys"><tspan x="-5.60" textLength="4.60" lengthAdjust="spacingAndGlyphs">6</tspan><tspan x="0.00" textLength="4.60" lengthAdjust="spacingAndGlyphs">4</tspan><tspan x="5.60" textLength="4.60" lengthAdjust="spacingAndGlyphs">5</tspan></text>
</g>
<g transform="translate(62.2,262.3) rotate(-90)">
<text y="0.00" font-size="10.61" text-anchor="middle" class="tys"><tspan x="-5.60" textLength="4.60" lengthAdjust="spacingAndGlyphs">6</tspan><tspan x="0.00" textLength="4.60" lengthAdjust="spacingAndGlyphs">5</tspan><tspan x="5.60" textLength="2.48" lengthAdjust="spacingAndGlyphs" class="t0">0</tspan></text>
</g>
<g transform="translate(792.3,60.4) rotate(-13.08)">
<line x1="0.00" y1="0.00" x2="69.40" y2="0.00" class="g" />
<path d="M0.00,0.00L11.20,-2.10V2.10Z" class="gf"/>
<path d="M69.40,0.00L58.20,-2.10V2.10Z" class="gf"/>
<line x1="0.00" y1="-5.00" x2="0.00" y2="24.30" class="g" />
<line x1="69.40" y1="-5.00" x2="69.40" y2="24.60" class="g" />
<text y="-7.10" font-size="19.83" text-anchor="middle" class="ty"><tspan x="23.35" textLength="8.60" lengthAdjust="spacingAndGlyphs">6</tspan><tspan x="34.20" textLength="8.60" lengthAdjust="spacingAndGlyphs">4</tspan><tspan x="45.05" textLength="8.60" lengthAdjust="spacingAndGlyphs">4</tspan></text>
</g>
<path d="M975.9,32.5H939.4L890.5,93.2" class="g" />
<path d="M888.4,95.8L896.46,88.81L893.50,86.43Z" class="gf" />
<text transform="translate(965.6,22.8) scale(0.86,1.05)" font-size="12" text-anchor="middle" class="tys cjk">通风</text>
</svg>
</body></html>
